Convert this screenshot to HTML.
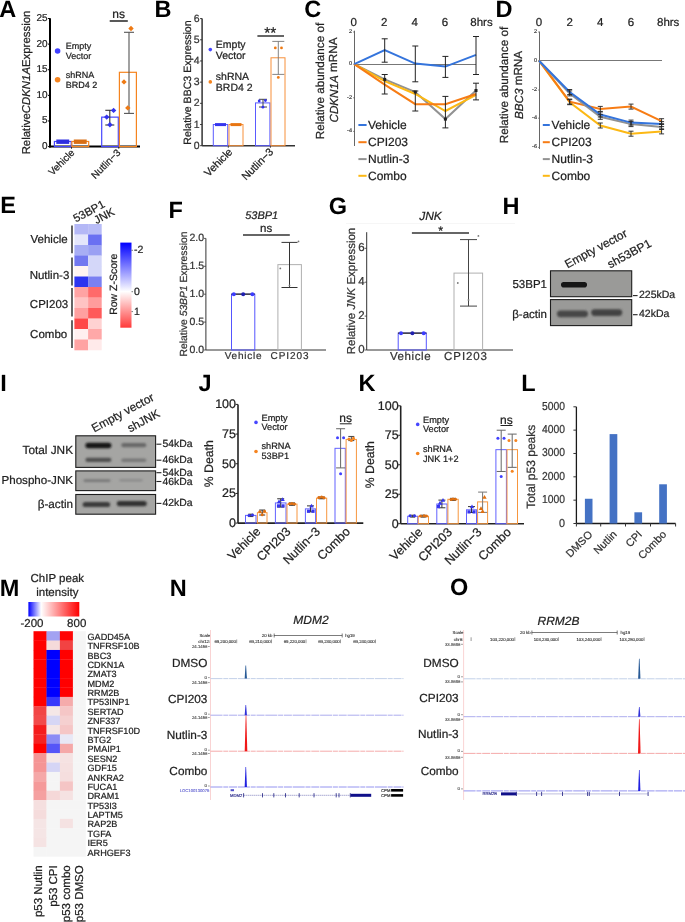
<!DOCTYPE html>
<html><head><meta charset="utf-8"><style>
html,body{margin:0;padding:0;background:#fff;width:685px;height:922px;overflow:hidden}
svg{display:block;will-change:transform}
text{font-family:"Liberation Sans", sans-serif;text-rendering:geometricPrecision}
</style></head><body>
<svg width="685" height="922" viewBox="0 0 685 922">
<defs>
<filter id="blur1" x="-50%" y="-50%" width="200%" height="200%"><feGaussianBlur stdDeviation="1.2"/></filter>
<filter id="blur2" x="-50%" y="-50%" width="200%" height="200%"><feGaussianBlur stdDeviation="0.7"/></filter>
<linearGradient id="zbar" x1="0" y1="0" x2="0" y2="1">
<stop offset="0" stop-color="#0000ff"/><stop offset="0.575" stop-color="#ffffff"/><stop offset="1" stop-color="#ff3a3a"/>
</linearGradient>
<linearGradient id="mbar" x1="0" y1="0" x2="1" y2="0">
<stop offset="0" stop-color="#0000ff"/><stop offset="0.25" stop-color="#ffffff"/><stop offset="1" stop-color="#ff0000"/>
</linearGradient>
</defs>
<rect width="685" height="922" fill="#fff"/>
<text x="-0.8" y="16.7" font-size="23.5" text-anchor="start" dominant-baseline="alphabetic" fill="#000" font-weight="bold">A</text>
<line x1="50" y1="18.3" x2="50" y2="147.6" stroke="#000" stroke-width="2"/>
<line x1="49" y1="146.6" x2="140" y2="146.6" stroke="#000" stroke-width="2"/>
<line x1="48" y1="146.6" x2="50" y2="146.6" stroke="#000" stroke-width="1"/>
<text x="47.5" y="146.6" font-size="10" text-anchor="end" dominant-baseline="central" fill="#222" stroke="#222" stroke-width="0.22">0</text>
<line x1="48" y1="120.97999999999999" x2="50" y2="120.97999999999999" stroke="#000" stroke-width="1"/>
<text x="47.5" y="120.97999999999999" font-size="10" text-anchor="end" dominant-baseline="central" fill="#222" stroke="#222" stroke-width="0.22">5</text>
<line x1="48" y1="95.36" x2="50" y2="95.36" stroke="#000" stroke-width="1"/>
<text x="47.5" y="95.36" font-size="10" text-anchor="end" dominant-baseline="central" fill="#222" stroke="#222" stroke-width="0.22">10</text>
<line x1="48" y1="69.74" x2="50" y2="69.74" stroke="#000" stroke-width="1"/>
<text x="47.5" y="69.74" font-size="10" text-anchor="end" dominant-baseline="central" fill="#222" stroke="#222" stroke-width="0.22">15</text>
<line x1="48" y1="44.120000000000005" x2="50" y2="44.120000000000005" stroke="#000" stroke-width="1"/>
<text x="47.5" y="44.120000000000005" font-size="10" text-anchor="end" dominant-baseline="central" fill="#222" stroke="#222" stroke-width="0.22">20</text>
<line x1="48" y1="18.5" x2="50" y2="18.5" stroke="#000" stroke-width="1"/>
<text x="47.5" y="18.5" font-size="10" text-anchor="end" dominant-baseline="central" fill="#222" stroke="#222" stroke-width="0.22">25</text>
<line x1="71.5" y1="146.6" x2="71.5" y2="148.6" stroke="#000" stroke-width="1"/>
<line x1="118.8" y1="146.6" x2="118.8" y2="148.6" stroke="#000" stroke-width="1"/>
<rect x="54.4" y="141.476" width="16.800000000000004" height="5.123999999999995" fill="none" stroke="#4646ff" stroke-width="1.2"/>
<rect x="71.9" y="141.476" width="16.799999999999997" height="5.123999999999995" fill="none" stroke="#f5841f" stroke-width="1.2"/>
<rect x="101.7" y="117.137" width="16.599999999999994" height="29.462999999999994" fill="none" stroke="#4646ff" stroke-width="1.2"/>
<rect x="119.4" y="72.30199999999999" width="17.0" height="74.298" fill="none" stroke="#f5841f" stroke-width="1.2"/>
<line x1="56.3" y1="141.7" x2="69.2" y2="141.7" stroke="#2e2ee0" stroke-width="4.4"/>
<line x1="73.8" y1="141.7" x2="86.7" y2="141.7" stroke="#d86e14" stroke-width="4.4"/>
<line x1="109.8" y1="110.3" x2="109.8" y2="125" stroke="#333" stroke-width="1.1"/>
<line x1="105.3" y1="110.3" x2="114.3" y2="110.3" stroke="#333" stroke-width="1.1"/>
<line x1="105.3" y1="125" x2="114.3" y2="125" stroke="#333" stroke-width="1.1"/>
<line x1="129" y1="32.3" x2="129" y2="113.4" stroke="#555" stroke-width="1.1"/>
<line x1="124" y1="32.3" x2="134" y2="32.3" stroke="#555" stroke-width="1.1"/>
<line x1="124" y1="113.4" x2="134" y2="113.4" stroke="#555" stroke-width="1.1"/>
<path d="M113.6 107.7L116.3 110.4L113.6 113.10000000000001L110.89999999999999 110.4Z" fill="#3434ee" stroke="none" stroke-width="1"/>
<path d="M106.7 114.39999999999999L109.4 117.1L106.7 119.8L104.0 117.1Z" fill="#3434ee" stroke="none" stroke-width="1"/>
<path d="M109.9 122.1L112.60000000000001 124.8L109.9 127.5L107.2 124.8Z" fill="#3434ee" stroke="none" stroke-width="1"/>
<path d="M131 25.8L133.7 28.5L131 31.2L128.3 28.5Z" fill="#ee7a14" stroke="none" stroke-width="1"/>
<path d="M124 79.2L126.7 81.9L124 84.60000000000001L121.3 81.9Z" fill="#ee7a14" stroke="none" stroke-width="1"/>
<path d="M127.8 105.2L130.5 107.9L127.8 110.60000000000001L125.1 107.9Z" fill="#ee7a14" stroke="none" stroke-width="1"/>
<line x1="109.7" y1="21" x2="127.8" y2="21" stroke="#222" stroke-width="1.5"/>
<text x="118.7" y="14" font-size="12" text-anchor="middle" dominant-baseline="central" fill="#222" stroke="#222" stroke-width="0.22">ns</text>
<circle cx="57.6" cy="51" r="2.8" fill="#4040ff"/>
<circle cx="57.6" cy="79.7" r="2.8" fill="#f5841f"/>
<text x="65.8" y="49.4" font-size="9" text-anchor="start" dominant-baseline="alphabetic" fill="#222" stroke="#222" stroke-width="0.22">Empty</text>
<text x="65.8" y="59.2" font-size="9" text-anchor="start" dominant-baseline="alphabetic" fill="#222" stroke="#222" stroke-width="0.22">Vector</text>
<text x="65.8" y="77.8" font-size="9" text-anchor="start" dominant-baseline="alphabetic" fill="#222" stroke="#222" stroke-width="0.22">shRNA</text>
<text x="65.8" y="87.8" font-size="9" text-anchor="start" dominant-baseline="alphabetic" fill="#222" stroke="#222" stroke-width="0.22">BRD4 2</text>
<text x="26.8" y="82.4" font-size="11.4" text-anchor="middle" dominant-baseline="central" fill="#222" stroke="#222" stroke-width="0.22" transform="rotate(-90 26.8 82.5)">Relative<tspan font-style="italic">CDKN1A</tspan>Expression</text>
<text x="73.5" y="151.5" font-size="10" text-anchor="end" dominant-baseline="central" fill="#222" stroke="#222" stroke-width="0.22" transform="rotate(-45 73.5 151.5)">Vehicle</text>
<text x="119.5" y="151.5" font-size="10" text-anchor="end" dominant-baseline="central" fill="#222" stroke="#222" stroke-width="0.22" transform="rotate(-45 119.5 151.5)">Nutlin−3</text>
<text x="154.5" y="16.9" font-size="23.5" text-anchor="start" dominant-baseline="alphabetic" fill="#000" font-weight="bold">B</text>
<line x1="202.1" y1="18.6" x2="202.1" y2="145.7" stroke="#333" stroke-width="1.5"/>
<line x1="202.1" y1="145.7" x2="295" y2="145.7" stroke="#333" stroke-width="1.5"/>
<line x1="200.1" y1="145.7" x2="202.1" y2="145.7" stroke="#333" stroke-width="1"/>
<text x="199.6" y="145.7" font-size="10.5" text-anchor="end" dominant-baseline="central" fill="#333" stroke="#333" stroke-width="0.22">0</text>
<line x1="200.1" y1="124.51666666666665" x2="202.1" y2="124.51666666666665" stroke="#333" stroke-width="1"/>
<text x="199.6" y="124.51666666666665" font-size="10.5" text-anchor="end" dominant-baseline="central" fill="#333" stroke="#333" stroke-width="0.22">1</text>
<line x1="200.1" y1="103.33333333333331" x2="202.1" y2="103.33333333333331" stroke="#333" stroke-width="1"/>
<text x="199.6" y="103.33333333333331" font-size="10.5" text-anchor="end" dominant-baseline="central" fill="#333" stroke="#333" stroke-width="0.22">2</text>
<line x1="200.1" y1="82.14999999999999" x2="202.1" y2="82.14999999999999" stroke="#333" stroke-width="1"/>
<text x="199.6" y="82.14999999999999" font-size="10.5" text-anchor="end" dominant-baseline="central" fill="#333" stroke="#333" stroke-width="0.22">3</text>
<line x1="200.1" y1="60.966666666666654" x2="202.1" y2="60.966666666666654" stroke="#333" stroke-width="1"/>
<text x="199.6" y="60.966666666666654" font-size="10.5" text-anchor="end" dominant-baseline="central" fill="#333" stroke="#333" stroke-width="0.22">4</text>
<line x1="200.1" y1="39.78333333333332" x2="202.1" y2="39.78333333333332" stroke="#333" stroke-width="1"/>
<text x="199.6" y="39.78333333333332" font-size="10.5" text-anchor="end" dominant-baseline="central" fill="#333" stroke="#333" stroke-width="0.22">5</text>
<line x1="200.1" y1="18.599999999999994" x2="202.1" y2="18.599999999999994" stroke="#333" stroke-width="1"/>
<text x="199.6" y="18.599999999999994" font-size="10.5" text-anchor="end" dominant-baseline="central" fill="#333" stroke="#333" stroke-width="0.22">6</text>
<line x1="228.3" y1="145.7" x2="228.3" y2="147.7" stroke="#333" stroke-width="1"/>
<line x1="270.4" y1="145.7" x2="270.4" y2="147.7" stroke="#333" stroke-width="1"/>
<rect x="213.3" y="124.51666666666665" width="14.399999999999977" height="21.183333333333337" fill="none" stroke="#5a5aff" stroke-width="1.0"/>
<rect x="229" y="124.51666666666665" width="14" height="21.183333333333337" fill="none" stroke="#f7903a" stroke-width="1.0"/>
<rect x="255.5" y="102.90966666666665" width="14.399999999999977" height="42.790333333333336" fill="none" stroke="#5a5aff" stroke-width="1.0"/>
<rect x="271" y="57.789166666666645" width="14" height="87.91083333333334" fill="none" stroke="#f7903a" stroke-width="1.0"/>
<line x1="215" y1="124.6" x2="226" y2="124.6" stroke="#3535ee" stroke-width="3"/>
<line x1="230.5" y1="124.6" x2="241.5" y2="124.6" stroke="#e87512" stroke-width="3"/>
<line x1="278.3" y1="41.4" x2="278.3" y2="74.4" stroke="#777" stroke-width="0.9"/>
<line x1="272.3" y1="41.4" x2="284.3" y2="41.4" stroke="#777" stroke-width="0.9"/>
<line x1="272.3" y1="74.4" x2="284.3" y2="74.4" stroke="#777" stroke-width="0.9"/>
<line x1="263" y1="99.3" x2="263" y2="107" stroke="#444" stroke-width="1"/>
<line x1="259" y1="99.3" x2="267" y2="99.3" stroke="#444" stroke-width="1"/>
<line x1="259" y1="107" x2="267" y2="107" stroke="#444" stroke-width="1"/>
<circle cx="259.2" cy="101" r="1.4" fill="#3434ee"/>
<circle cx="265.4" cy="100.5" r="1.4" fill="#3434ee"/>
<circle cx="262.9" cy="107.2" r="1.4" fill="#3434ee"/>
<circle cx="275.3" cy="47.9" r="1.4" fill="#ee7a14"/>
<circle cx="281.5" cy="47.9" r="1.4" fill="#ee7a14"/>
<circle cx="278.3" cy="77.4" r="1.4" fill="#ee7a14"/>
<line x1="257.4" y1="36" x2="284" y2="36" stroke="#333" stroke-width="1.5"/>
<text x="270.2" y="38.2" font-size="15.5" text-anchor="middle" dominant-baseline="alphabetic" fill="#222" stroke="#222" stroke-width="0.22">**</text>
<circle cx="210.3" cy="49.6" r="1.8" fill="#4646ff"/>
<circle cx="210.3" cy="81.9" r="1.8" fill="#f5841f"/>
<text x="215.8" y="44.7" font-size="10.5" text-anchor="start" dominant-baseline="central" fill="#222" stroke="#222" stroke-width="0.22">Empty</text>
<text x="215.8" y="55.5" font-size="10.5" text-anchor="start" dominant-baseline="central" fill="#222" stroke="#222" stroke-width="0.22">Vector</text>
<text x="215.8" y="77.2" font-size="10.5" text-anchor="start" dominant-baseline="central" fill="#222" stroke="#222" stroke-width="0.22">shRNA</text>
<text x="215.8" y="88.3" font-size="10.5" text-anchor="start" dominant-baseline="central" fill="#222" stroke="#222" stroke-width="0.22">BRD4 2</text>
<text x="188.3" y="82.5" font-size="10.6" text-anchor="middle" dominant-baseline="central" fill="#222" stroke="#222" stroke-width="0.22" transform="rotate(-90 188.3 82.5)">Relative BBC3 Expression</text>
<text x="231" y="150.5" font-size="10.8" text-anchor="end" dominant-baseline="central" fill="#222" stroke="#222" stroke-width="0.22" transform="rotate(-45 231 150.5)">Vehicle</text>
<text x="272" y="150.5" font-size="10.8" text-anchor="end" dominant-baseline="central" fill="#222" stroke="#222" stroke-width="0.22" transform="rotate(-45 272 150.5)">Nutlin−3</text>
<text x="304.2" y="16.8" font-size="23.5" text-anchor="start" dominant-baseline="alphabetic" fill="#000" font-weight="bold">C</text>
<text x="353.8" y="23.4" font-size="11.5" text-anchor="middle" dominant-baseline="central" fill="#222" stroke="#222" stroke-width="0.22">0</text>
<text x="384.2" y="23.4" font-size="11.5" text-anchor="middle" dominant-baseline="central" fill="#222" stroke="#222" stroke-width="0.22">2</text>
<text x="414.8" y="23.4" font-size="11.5" text-anchor="middle" dominant-baseline="central" fill="#222" stroke="#222" stroke-width="0.22">4</text>
<text x="444.9" y="23.4" font-size="11.5" text-anchor="middle" dominant-baseline="central" fill="#222" stroke="#222" stroke-width="0.22">6</text>
<text x="470.3" y="23.4" font-size="11.5" text-anchor="start" dominant-baseline="central" fill="#222" stroke="#222" stroke-width="0.22">8hrs</text>
<line x1="354.5" y1="30.7" x2="354.5" y2="146" stroke="#666" stroke-width="1"/>
<line x1="354.3" y1="64.5" x2="476" y2="64.5" stroke="#777" stroke-width="1"/>
<text x="352" y="32" font-size="5.5" text-anchor="end" dominant-baseline="central" fill="#222" stroke="#222" stroke-width="0.12">2</text>
<line x1="353" y1="32" x2="354.3" y2="32" stroke="#444" stroke-width="0.6"/>
<text x="352" y="64.2" font-size="5.5" text-anchor="end" dominant-baseline="central" fill="#222" stroke="#222" stroke-width="0.12">0</text>
<line x1="353" y1="64.2" x2="354.3" y2="64.2" stroke="#444" stroke-width="0.6"/>
<text x="352" y="97.8" font-size="5.5" text-anchor="end" dominant-baseline="central" fill="#222" stroke="#222" stroke-width="0.12">-2</text>
<line x1="353" y1="97.8" x2="354.3" y2="97.8" stroke="#444" stroke-width="0.6"/>
<text x="352" y="131.4" font-size="5.5" text-anchor="end" dominant-baseline="central" fill="#222" stroke="#222" stroke-width="0.12">-4</text>
<line x1="353" y1="131.4" x2="354.3" y2="131.4" stroke="#444" stroke-width="0.6"/>
<polyline points="354.3,64.2 384.7,79.4 415.3,92 445.4,119.1 476,90.5" fill="none" stroke="#929292" stroke-width="2"/>
<polyline points="354.3,64.2 384.7,81.2 415.3,94 445.4,111 476,94.9" fill="none" stroke="#fcb814" stroke-width="2"/>
<polyline points="354.3,64.2 384.7,84.7 415.3,104.2 445.4,104.2 476,94" fill="none" stroke="#f77c14" stroke-width="2"/>
<polyline points="354.3,64.2 384.7,50.2 415.3,63.6 445.4,66.6 476,54.9" fill="none" stroke="#3474dc" stroke-width="2"/>
<line x1="384.7" y1="38.8" x2="384.7" y2="62.2" stroke="#222" stroke-width="1"/>
<line x1="381.7" y1="38.8" x2="387.7" y2="38.8" stroke="#222" stroke-width="1"/>
<line x1="381.7" y1="62.2" x2="387.7" y2="62.2" stroke="#222" stroke-width="1"/>
<line x1="415.3" y1="46" x2="415.3" y2="81.8" stroke="#222" stroke-width="1"/>
<line x1="412.3" y1="46" x2="418.3" y2="46" stroke="#222" stroke-width="1"/>
<line x1="412.3" y1="81.8" x2="418.3" y2="81.8" stroke="#222" stroke-width="1"/>
<line x1="445.4" y1="56.4" x2="445.4" y2="77.4" stroke="#222" stroke-width="1"/>
<line x1="442.4" y1="56.4" x2="448.4" y2="56.4" stroke="#222" stroke-width="1"/>
<line x1="442.4" y1="77.4" x2="448.4" y2="77.4" stroke="#222" stroke-width="1"/>
<line x1="476" y1="36.5" x2="476" y2="74.5" stroke="#222" stroke-width="1"/>
<line x1="473" y1="36.5" x2="479" y2="36.5" stroke="#222" stroke-width="1"/>
<line x1="473" y1="74.5" x2="479" y2="74.5" stroke="#222" stroke-width="1"/>
<line x1="384.7" y1="74.5" x2="384.7" y2="94" stroke="#222" stroke-width="1"/>
<line x1="381.7" y1="74.5" x2="387.7" y2="74.5" stroke="#222" stroke-width="1"/>
<line x1="381.7" y1="94" x2="387.7" y2="94" stroke="#222" stroke-width="1"/>
<line x1="415.3" y1="91" x2="415.3" y2="111" stroke="#222" stroke-width="1"/>
<line x1="412.3" y1="91" x2="418.3" y2="91" stroke="#222" stroke-width="1"/>
<line x1="412.3" y1="111" x2="418.3" y2="111" stroke="#222" stroke-width="1"/>
<line x1="445.4" y1="96.4" x2="445.4" y2="127.9" stroke="#222" stroke-width="1"/>
<line x1="442.4" y1="96.4" x2="448.4" y2="96.4" stroke="#222" stroke-width="1"/>
<line x1="442.4" y1="127.9" x2="448.4" y2="127.9" stroke="#222" stroke-width="1"/>
<line x1="476" y1="83.2" x2="476" y2="99.9" stroke="#222" stroke-width="1"/>
<line x1="473" y1="83.2" x2="479" y2="83.2" stroke="#222" stroke-width="1"/>
<line x1="473" y1="99.9" x2="479" y2="99.9" stroke="#222" stroke-width="1"/>
<rect x="383.2" y="77.9" width="3" height="3" fill="#222" stroke="none" stroke-width="1"/>
<rect x="413.8" y="90.5" width="3" height="3" fill="#222" stroke="none" stroke-width="1"/>
<rect x="443.9" y="117.6" width="3" height="3" fill="#222" stroke="none" stroke-width="1"/>
<rect x="474.5" y="89.0" width="3" height="3" fill="#222" stroke="none" stroke-width="1"/>
<text x="320.4" y="81" font-size="11.7" text-anchor="middle" dominant-baseline="central" fill="#222" stroke="#222" stroke-width="0.22" transform="rotate(-90 320.4 81)">Relative abundance of</text>
<text x="333.6" y="80" font-size="11.7" text-anchor="middle" dominant-baseline="central" fill="#222" stroke="#222" stroke-width="0.22" transform="rotate(-90 333.6 80)"><tspan font-style="italic">CDKN1A</tspan> mRNA</text>
<line x1="358.4" y1="125" x2="366.6" y2="125" stroke="#3474dc" stroke-width="2"/>
<text x="368" y="125" font-size="12" text-anchor="start" dominant-baseline="central" fill="#222" stroke="#222" stroke-width="0.22">Vehicle</text>
<line x1="358.4" y1="142.2" x2="366.6" y2="142.2" stroke="#f77c14" stroke-width="2"/>
<text x="368" y="142.2" font-size="12" text-anchor="start" dominant-baseline="central" fill="#222" stroke="#222" stroke-width="0.22">CPI203</text>
<line x1="358.4" y1="159.1" x2="366.6" y2="159.1" stroke="#929292" stroke-width="2"/>
<text x="368" y="159.1" font-size="12" text-anchor="start" dominant-baseline="central" fill="#222" stroke="#222" stroke-width="0.22">Nutlin-3</text>
<line x1="358.4" y1="175.8" x2="366.6" y2="175.8" stroke="#fcb814" stroke-width="2"/>
<text x="368" y="175.8" font-size="12" text-anchor="start" dominant-baseline="central" fill="#222" stroke="#222" stroke-width="0.22">Combo</text>
<text x="495.4" y="16.9" font-size="23.5" text-anchor="start" dominant-baseline="alphabetic" fill="#000" font-weight="bold">D</text>
<text x="539" y="23.4" font-size="11.5" text-anchor="middle" dominant-baseline="central" fill="#222" stroke="#222" stroke-width="0.22">0</text>
<text x="569.7" y="23.4" font-size="11.5" text-anchor="middle" dominant-baseline="central" fill="#222" stroke="#222" stroke-width="0.22">2</text>
<text x="600.3" y="23.4" font-size="11.5" text-anchor="middle" dominant-baseline="central" fill="#222" stroke="#222" stroke-width="0.22">4</text>
<text x="631" y="23.4" font-size="11.5" text-anchor="middle" dominant-baseline="central" fill="#222" stroke="#222" stroke-width="0.22">6</text>
<text x="657" y="23.4" font-size="11.5" text-anchor="start" dominant-baseline="central" fill="#222" stroke="#222" stroke-width="0.22">8hrs</text>
<line x1="539.5" y1="31.5" x2="539.5" y2="149" stroke="#666" stroke-width="1"/>
<line x1="539" y1="60.5" x2="662" y2="60.5" stroke="#777" stroke-width="1"/>
<text x="537" y="32" font-size="5.5" text-anchor="end" dominant-baseline="central" fill="#222" stroke="#222" stroke-width="0.12">2</text>
<line x1="538" y1="32" x2="539" y2="32" stroke="#444" stroke-width="0.6"/>
<text x="537" y="60.7" font-size="5.5" text-anchor="end" dominant-baseline="central" fill="#222" stroke="#222" stroke-width="0.12">0</text>
<line x1="538" y1="60.7" x2="539" y2="60.7" stroke="#444" stroke-width="0.6"/>
<text x="537" y="90" font-size="5.5" text-anchor="end" dominant-baseline="central" fill="#222" stroke="#222" stroke-width="0.12">-2</text>
<line x1="538" y1="90" x2="539" y2="90" stroke="#444" stroke-width="0.6"/>
<text x="537" y="118.2" font-size="5.5" text-anchor="end" dominant-baseline="central" fill="#222" stroke="#222" stroke-width="0.12">-4</text>
<line x1="538" y1="118.2" x2="539" y2="118.2" stroke="#444" stroke-width="0.6"/>
<text x="537" y="147.4" font-size="5.5" text-anchor="end" dominant-baseline="central" fill="#222" stroke="#222" stroke-width="0.12">-6</text>
<line x1="538" y1="147.4" x2="539" y2="147.4" stroke="#444" stroke-width="0.6"/>
<polyline points="539,60.7 569.7,102.2 600.3,125.5 631,133.7 661.6,131.4" fill="none" stroke="#fcb814" stroke-width="2"/>
<polyline points="539,60.7 569.7,101.6 600.3,108.9 631,106.6 661.6,121.2" fill="none" stroke="#f77c14" stroke-width="2"/>
<polyline points="539,60.7 569.7,93.4 600.3,116.8 631,124.1 661.6,127" fill="none" stroke="#929292" stroke-width="2"/>
<polyline points="539,60.7 569.7,92 600.3,114.5 631,122.6 661.6,124.1" fill="none" stroke="#3474dc" stroke-width="2"/>
<line x1="569.7" y1="89.5" x2="569.7" y2="94.5" stroke="#222" stroke-width="0.9"/>
<line x1="567.2" y1="89.5" x2="572.2" y2="89.5" stroke="#222" stroke-width="0.9"/>
<line x1="567.2" y1="94.5" x2="572.2" y2="94.5" stroke="#222" stroke-width="0.9"/>
<line x1="600.3" y1="112.0" x2="600.3" y2="117.0" stroke="#222" stroke-width="0.9"/>
<line x1="597.8" y1="112.0" x2="602.8" y2="112.0" stroke="#222" stroke-width="0.9"/>
<line x1="597.8" y1="117.0" x2="602.8" y2="117.0" stroke="#222" stroke-width="0.9"/>
<line x1="631" y1="120.1" x2="631" y2="125.1" stroke="#222" stroke-width="0.9"/>
<line x1="628.5" y1="120.1" x2="633.5" y2="120.1" stroke="#222" stroke-width="0.9"/>
<line x1="628.5" y1="125.1" x2="633.5" y2="125.1" stroke="#222" stroke-width="0.9"/>
<line x1="661.6" y1="121.6" x2="661.6" y2="126.6" stroke="#222" stroke-width="0.9"/>
<line x1="659.1" y1="121.6" x2="664.1" y2="121.6" stroke="#222" stroke-width="0.9"/>
<line x1="659.1" y1="126.6" x2="664.1" y2="126.6" stroke="#222" stroke-width="0.9"/>
<line x1="569.7" y1="99.1" x2="569.7" y2="104.1" stroke="#222" stroke-width="0.9"/>
<line x1="567.2" y1="99.1" x2="572.2" y2="99.1" stroke="#222" stroke-width="0.9"/>
<line x1="567.2" y1="104.1" x2="572.2" y2="104.1" stroke="#222" stroke-width="0.9"/>
<line x1="600.3" y1="106.4" x2="600.3" y2="111.4" stroke="#222" stroke-width="0.9"/>
<line x1="597.8" y1="106.4" x2="602.8" y2="106.4" stroke="#222" stroke-width="0.9"/>
<line x1="597.8" y1="111.4" x2="602.8" y2="111.4" stroke="#222" stroke-width="0.9"/>
<line x1="631" y1="104.1" x2="631" y2="109.1" stroke="#222" stroke-width="0.9"/>
<line x1="628.5" y1="104.1" x2="633.5" y2="104.1" stroke="#222" stroke-width="0.9"/>
<line x1="628.5" y1="109.1" x2="633.5" y2="109.1" stroke="#222" stroke-width="0.9"/>
<line x1="661.6" y1="118.7" x2="661.6" y2="123.7" stroke="#222" stroke-width="0.9"/>
<line x1="659.1" y1="118.7" x2="664.1" y2="118.7" stroke="#222" stroke-width="0.9"/>
<line x1="659.1" y1="123.7" x2="664.1" y2="123.7" stroke="#222" stroke-width="0.9"/>
<line x1="569.7" y1="90.9" x2="569.7" y2="95.9" stroke="#222" stroke-width="0.9"/>
<line x1="567.2" y1="90.9" x2="572.2" y2="90.9" stroke="#222" stroke-width="0.9"/>
<line x1="567.2" y1="95.9" x2="572.2" y2="95.9" stroke="#222" stroke-width="0.9"/>
<line x1="600.3" y1="114.3" x2="600.3" y2="119.3" stroke="#222" stroke-width="0.9"/>
<line x1="597.8" y1="114.3" x2="602.8" y2="114.3" stroke="#222" stroke-width="0.9"/>
<line x1="597.8" y1="119.3" x2="602.8" y2="119.3" stroke="#222" stroke-width="0.9"/>
<line x1="631" y1="121.6" x2="631" y2="126.6" stroke="#222" stroke-width="0.9"/>
<line x1="628.5" y1="121.6" x2="633.5" y2="121.6" stroke="#222" stroke-width="0.9"/>
<line x1="628.5" y1="126.6" x2="633.5" y2="126.6" stroke="#222" stroke-width="0.9"/>
<line x1="661.6" y1="124.5" x2="661.6" y2="129.5" stroke="#222" stroke-width="0.9"/>
<line x1="659.1" y1="124.5" x2="664.1" y2="124.5" stroke="#222" stroke-width="0.9"/>
<line x1="659.1" y1="129.5" x2="664.1" y2="129.5" stroke="#222" stroke-width="0.9"/>
<line x1="569.7" y1="99.7" x2="569.7" y2="104.7" stroke="#222" stroke-width="0.9"/>
<line x1="567.2" y1="99.7" x2="572.2" y2="99.7" stroke="#222" stroke-width="0.9"/>
<line x1="567.2" y1="104.7" x2="572.2" y2="104.7" stroke="#222" stroke-width="0.9"/>
<line x1="600.3" y1="123.0" x2="600.3" y2="128.0" stroke="#222" stroke-width="0.9"/>
<line x1="597.8" y1="123.0" x2="602.8" y2="123.0" stroke="#222" stroke-width="0.9"/>
<line x1="597.8" y1="128.0" x2="602.8" y2="128.0" stroke="#222" stroke-width="0.9"/>
<line x1="631" y1="131.2" x2="631" y2="136.2" stroke="#222" stroke-width="0.9"/>
<line x1="628.5" y1="131.2" x2="633.5" y2="131.2" stroke="#222" stroke-width="0.9"/>
<line x1="628.5" y1="136.2" x2="633.5" y2="136.2" stroke="#222" stroke-width="0.9"/>
<line x1="661.6" y1="128.9" x2="661.6" y2="133.9" stroke="#222" stroke-width="0.9"/>
<line x1="659.1" y1="128.9" x2="664.1" y2="128.9" stroke="#222" stroke-width="0.9"/>
<line x1="659.1" y1="133.9" x2="664.1" y2="133.9" stroke="#222" stroke-width="0.9"/>
<text x="504.9" y="85" font-size="11.7" text-anchor="middle" dominant-baseline="central" fill="#222" stroke="#222" stroke-width="0.22" transform="rotate(-90 504.9 85)">Relative abundance of</text>
<text x="518.6" y="85" font-size="11.7" text-anchor="middle" dominant-baseline="central" fill="#222" stroke="#222" stroke-width="0.22" transform="rotate(-90 518.6 85)"><tspan font-style="italic">BBC3</tspan> mRNA</text>
<line x1="542.8" y1="125" x2="549.8" y2="125" stroke="#3474dc" stroke-width="2"/>
<text x="551.6" y="125" font-size="12" text-anchor="start" dominant-baseline="central" fill="#222" stroke="#222" stroke-width="0.22">Vehicle</text>
<line x1="542.8" y1="142.2" x2="549.8" y2="142.2" stroke="#f77c14" stroke-width="2"/>
<text x="551.6" y="142.2" font-size="12" text-anchor="start" dominant-baseline="central" fill="#222" stroke="#222" stroke-width="0.22">CPI203</text>
<line x1="542.8" y1="159.1" x2="549.8" y2="159.1" stroke="#929292" stroke-width="2"/>
<text x="551.6" y="159.1" font-size="12" text-anchor="start" dominant-baseline="central" fill="#222" stroke="#222" stroke-width="0.22">Nutlin-3</text>
<line x1="542.8" y1="175.8" x2="549.8" y2="175.8" stroke="#fcb814" stroke-width="2"/>
<text x="551.6" y="175.8" font-size="12" text-anchor="start" dominant-baseline="central" fill="#222" stroke="#222" stroke-width="0.22">Combo</text>
<text x="0.3" y="213.4" font-size="23.5" text-anchor="start" dominant-baseline="alphabetic" fill="#000" font-weight="bold">E</text>
<rect x="74.4" y="224.0" width="13.7" height="10.8" fill="#b4b8f6" stroke="none" stroke-width="1"/>
<rect x="88.1" y="224.0" width="13.6" height="10.8" fill="#b8bcf7" stroke="none" stroke-width="1"/>
<rect x="74.4" y="234.5" width="13.7" height="10.8" fill="#e4e6fb" stroke="none" stroke-width="1"/>
<rect x="88.1" y="234.5" width="13.6" height="10.8" fill="#6a70f2" stroke="none" stroke-width="1"/>
<rect x="74.4" y="245.0" width="13.7" height="10.8" fill="#a8aef4" stroke="none" stroke-width="1"/>
<rect x="88.1" y="245.0" width="13.6" height="10.8" fill="#9aa0f3" stroke="none" stroke-width="1"/>
<rect x="74.4" y="255.5" width="13.7" height="10.8" fill="#7278f0" stroke="none" stroke-width="1"/>
<rect x="88.1" y="255.5" width="13.6" height="10.8" fill="#d4d7f9" stroke="none" stroke-width="1"/>
<rect x="74.4" y="266.0" width="13.7" height="10.8" fill="#fff4f1" stroke="none" stroke-width="1"/>
<rect x="88.1" y="266.0" width="13.6" height="10.8" fill="#d4d7f9" stroke="none" stroke-width="1"/>
<rect x="74.4" y="276.5" width="13.7" height="10.8" fill="#2c34f0" stroke="none" stroke-width="1"/>
<rect x="88.1" y="276.5" width="13.6" height="10.8" fill="#7a80f2" stroke="none" stroke-width="1"/>
<rect x="74.4" y="287.0" width="13.7" height="10.8" fill="#ffa3a3" stroke="none" stroke-width="1"/>
<rect x="88.1" y="287.0" width="13.6" height="10.8" fill="#ff6a6a" stroke="none" stroke-width="1"/>
<rect x="74.4" y="297.5" width="13.7" height="10.8" fill="#ffc3c3" stroke="none" stroke-width="1"/>
<rect x="88.1" y="297.5" width="13.6" height="10.8" fill="#ff9c9c" stroke="none" stroke-width="1"/>
<rect x="74.4" y="308.0" width="13.7" height="10.8" fill="#ffa0a0" stroke="none" stroke-width="1"/>
<rect x="88.1" y="308.0" width="13.6" height="10.8" fill="#ff5a5a" stroke="none" stroke-width="1"/>
<rect x="74.4" y="318.5" width="13.7" height="10.8" fill="#ff4848" stroke="none" stroke-width="1"/>
<rect x="88.1" y="318.5" width="13.6" height="10.8" fill="#ffd2d2" stroke="none" stroke-width="1"/>
<rect x="74.4" y="329.0" width="13.7" height="10.8" fill="#fff0f0" stroke="none" stroke-width="1"/>
<rect x="88.1" y="329.0" width="13.6" height="10.8" fill="#ffa8a8" stroke="none" stroke-width="1"/>
<rect x="74.4" y="339.5" width="13.7" height="10.8" fill="#ffa3a3" stroke="none" stroke-width="1"/>
<rect x="88.1" y="339.5" width="13.6" height="10.8" fill="#ffeaea" stroke="none" stroke-width="1"/>
<line x1="72" y1="225.5" x2="72" y2="253.3" stroke="#111" stroke-width="1.3"/>
<line x1="72" y1="257.5" x2="72" y2="285.5" stroke="#111" stroke-width="1.3"/>
<line x1="72" y1="288" x2="72" y2="316.5" stroke="#111" stroke-width="1.3"/>
<line x1="72" y1="320.3" x2="72" y2="348" stroke="#111" stroke-width="1.3"/>
<text x="67.6" y="239.6" font-size="11.5" text-anchor="end" dominant-baseline="central" fill="#222" stroke="#222" stroke-width="0.22">Vehicle</text>
<text x="69.3" y="275.6" font-size="11.5" text-anchor="end" dominant-baseline="central" fill="#222" stroke="#222" stroke-width="0.22">Nutlin-3</text>
<text x="68.2" y="304.9" font-size="11.5" text-anchor="end" dominant-baseline="central" fill="#222" stroke="#222" stroke-width="0.22">CPI203</text>
<text x="67.2" y="334.7" font-size="11.5" text-anchor="end" dominant-baseline="central" fill="#222" stroke="#222" stroke-width="0.22">Combo</text>
<text x="75.8" y="222.6" font-size="11.3" text-anchor="start" dominant-baseline="alphabetic" fill="#222" stroke="#222" stroke-width="0.22" transform="rotate(-28 75.8 222.6)">53BP1</text>
<text x="96.5" y="224.2" font-size="11.3" text-anchor="start" dominant-baseline="alphabetic" fill="#222" stroke="#222" stroke-width="0.22" transform="rotate(-28 96.5 224.2)">JNK</text>
<rect x="120.3" y="242.6" width="11.2" height="85.1" fill="url(#zbar)" stroke="none" stroke-width="1"/>
<text x="134" y="250.3" font-size="10.5" text-anchor="start" dominant-baseline="central" fill="#222" stroke="#222" stroke-width="0.22">-2</text>
<text x="134" y="291.7" font-size="10.5" text-anchor="start" dominant-baseline="central" fill="#222" stroke="#222" stroke-width="0.22">0</text>
<text x="134" y="311.6" font-size="10.5" text-anchor="start" dominant-baseline="central" fill="#222" stroke="#222" stroke-width="0.22">1</text>
<line x1="131.5" y1="250.3" x2="133" y2="250.3" stroke="#222" stroke-width="0.6"/>
<line x1="131.5" y1="291.7" x2="133" y2="291.7" stroke="#222" stroke-width="0.6"/>
<line x1="131.5" y1="311.6" x2="133" y2="311.6" stroke="#222" stroke-width="0.6"/>
<text x="114.1" y="284.2" font-size="10.5" text-anchor="middle" dominant-baseline="central" fill="#222" stroke="#222" stroke-width="0.22" transform="rotate(-90 114.1 284.2)">Row Z-Score</text>
<text x="168.5" y="217.7" font-size="23.5" text-anchor="start" dominant-baseline="alphabetic" fill="#000" font-weight="bold">F</text>
<text x="261.7" y="216" font-size="11" text-anchor="middle" dominant-baseline="central" fill="#222" stroke="#222" stroke-width="0.22" font-style="italic">53BP1</text>
<text x="266.2" y="229.2" font-size="11.5" text-anchor="middle" dominant-baseline="central" fill="#222" stroke="#222" stroke-width="0.22">ns</text>
<line x1="243" y1="234.9" x2="289.8" y2="234.9" stroke="#333" stroke-width="1.5"/>
<line x1="205.9" y1="238.4" x2="205.9" y2="350" stroke="#333" stroke-width="1"/>
<line x1="205.9" y1="350" x2="326" y2="350" stroke="#333" stroke-width="1"/>
<line x1="203.9" y1="350.0" x2="205.9" y2="350.0" stroke="#333" stroke-width="0.8"/>
<text x="204" y="350.0" font-size="10.5" text-anchor="end" dominant-baseline="central" fill="#333" stroke="#333" stroke-width="0.22">0.0</text>
<line x1="203.9" y1="322.1" x2="205.9" y2="322.1" stroke="#333" stroke-width="0.8"/>
<text x="204" y="322.1" font-size="10.5" text-anchor="end" dominant-baseline="central" fill="#333" stroke="#333" stroke-width="0.22">0.5</text>
<line x1="203.9" y1="294.2" x2="205.9" y2="294.2" stroke="#333" stroke-width="0.8"/>
<text x="204" y="294.2" font-size="10.5" text-anchor="end" dominant-baseline="central" fill="#333" stroke="#333" stroke-width="0.22">1.0</text>
<line x1="203.9" y1="266.3" x2="205.9" y2="266.3" stroke="#333" stroke-width="0.8"/>
<text x="204" y="266.3" font-size="10.5" text-anchor="end" dominant-baseline="central" fill="#333" stroke="#333" stroke-width="0.22">1.5</text>
<line x1="203.9" y1="238.4" x2="205.9" y2="238.4" stroke="#333" stroke-width="0.8"/>
<text x="204" y="238.4" font-size="10.5" text-anchor="end" dominant-baseline="central" fill="#333" stroke="#333" stroke-width="0.22">2.0</text>
<rect x="231.5" y="294.2" width="23.3" height="55.8" fill="none" stroke="#5555ff" stroke-width="1"/>
<rect x="277.9" y="264.626" width="23.5" height="85.374" fill="none" stroke="#b0b0b0" stroke-width="1"/>
<line x1="231.5" y1="294.2" x2="254.8" y2="294.2" stroke="#333" stroke-width="1"/>
<line x1="231.5" y1="294.2" x2="254.8" y2="294.2" stroke="#444" stroke-width="1.2"/>
<circle cx="233.8" cy="294.2" r="2" fill="#3c3cff"/>
<circle cx="252.4" cy="294.2" r="2" fill="#3c3cff"/>
<circle cx="243.2" cy="294.2" r="2" fill="#2020b0"/>
<line x1="289.5" y1="242.4" x2="289.5" y2="287.5" stroke="#333" stroke-width="1"/>
<line x1="281.5" y1="242.4" x2="297.5" y2="242.4" stroke="#333" stroke-width="1"/>
<line x1="281.5" y1="287.5" x2="297.5" y2="287.5" stroke="#333" stroke-width="1"/>
<circle cx="280.3" cy="268.4" r="0.9" fill="#777"/>
<circle cx="298.5" cy="241.4" r="0.9" fill="#777"/>
<circle cx="289.5" cy="285.5" r="0.9" fill="#777"/>
<text x="184" y="294" font-size="10.3" text-anchor="middle" dominant-baseline="central" fill="#333" stroke="#333" stroke-width="0.22" transform="rotate(-90 184 294)">Relative <tspan font-style="italic">53BP1</tspan> Expression</text>
<text x="243.5" y="356" font-size="10" text-anchor="middle" dominant-baseline="central" fill="#333" stroke="#333" stroke-width="0.22" letter-spacing="0.75">Vehicle</text>
<text x="290" y="356" font-size="10" text-anchor="middle" dominant-baseline="central" fill="#333" stroke="#333" stroke-width="0.22" letter-spacing="0.95">CPI203</text>
<text x="328.8" y="214.3" font-size="23.5" text-anchor="start" dominant-baseline="alphabetic" fill="#000" font-weight="bold">G</text>
<line x1="346" y1="223.5" x2="515" y2="223.5" stroke="#f6f6f6" stroke-width="1"/>
<text x="430.5" y="216" font-size="12" text-anchor="middle" dominant-baseline="central" fill="#222" stroke="#222" stroke-width="0.22" font-style="italic">JNK</text>
<text x="440.6" y="230.5" font-size="12.5" text-anchor="middle" dominant-baseline="central" fill="#222" stroke="#222" stroke-width="0.22">*</text>
<line x1="411.9" y1="233" x2="469" y2="233" stroke="#333" stroke-width="1.5"/>
<line x1="366.7" y1="232.2" x2="366.7" y2="350" stroke="#333" stroke-width="1"/>
<line x1="366.7" y1="350" x2="513" y2="350" stroke="#333" stroke-width="1"/>
<line x1="364.7" y1="350.0" x2="366.7" y2="350.0" stroke="#333" stroke-width="0.8"/>
<text x="364.7" y="350.0" font-size="11.5" text-anchor="end" dominant-baseline="central" fill="#333" stroke="#333" stroke-width="0.22">0</text>
<line x1="364.7" y1="316.1" x2="366.7" y2="316.1" stroke="#333" stroke-width="0.8"/>
<text x="364.7" y="316.1" font-size="11.5" text-anchor="end" dominant-baseline="central" fill="#333" stroke="#333" stroke-width="0.22">2</text>
<line x1="364.7" y1="282.2" x2="366.7" y2="282.2" stroke="#333" stroke-width="0.8"/>
<text x="364.7" y="282.2" font-size="11.5" text-anchor="end" dominant-baseline="central" fill="#333" stroke="#333" stroke-width="0.22">4</text>
<line x1="364.7" y1="248.3" x2="366.7" y2="248.3" stroke="#333" stroke-width="0.8"/>
<text x="364.7" y="248.3" font-size="11.5" text-anchor="end" dominant-baseline="central" fill="#333" stroke="#333" stroke-width="0.22">6</text>
<rect x="398.2" y="333.05" width="28.1" height="16.95" fill="none" stroke="#5555ff" stroke-width="1"/>
<rect x="454" y="273.1" width="28.6" height="76.89999999999998" fill="none" stroke="#b0b0b0" stroke-width="1"/>
<line x1="398.2" y1="333.2" x2="426.3" y2="333.2" stroke="#333" stroke-width="1"/>
<line x1="398.2" y1="333.2" x2="426.3" y2="333.2" stroke="#444" stroke-width="1.2"/>
<circle cx="401" cy="333.2" r="2" fill="#3c3cff"/>
<circle cx="423.7" cy="333.2" r="2" fill="#3c3cff"/>
<circle cx="412.4" cy="333.2" r="2" fill="#2020b0"/>
<line x1="468.5" y1="239.6" x2="468.5" y2="306.1" stroke="#444" stroke-width="1"/>
<line x1="460.0" y1="239.6" x2="477.0" y2="239.6" stroke="#444" stroke-width="1"/>
<line x1="460.0" y1="306.1" x2="477.0" y2="306.1" stroke="#444" stroke-width="1"/>
<circle cx="457.8" cy="283" r="0.9" fill="#777"/>
<circle cx="478.4" cy="235.9" r="0.9" fill="#777"/>
<circle cx="468.5" cy="300" r="0.9" fill="#777"/>
<text x="352.3" y="291" font-size="11.5" text-anchor="middle" dominant-baseline="central" fill="#333" stroke="#333" stroke-width="0.22" transform="rotate(-90 352.3 291)">Relative <tspan font-style="italic">JNK</tspan> Expression</text>
<text x="410.6" y="357" font-size="11.5" text-anchor="middle" dominant-baseline="central" fill="#333" stroke="#333" stroke-width="0.22" letter-spacing="0.6">Vehicle</text>
<text x="466" y="357" font-size="11.5" text-anchor="middle" dominant-baseline="central" fill="#333" stroke="#333" stroke-width="0.22" letter-spacing="0.9">CPI203</text>
<text x="502.4" y="213.6" font-size="23.5" text-anchor="start" dominant-baseline="alphabetic" fill="#000" font-weight="bold">H</text>
<rect x="550.5" y="270.8" width="81.2" height="25.9" fill="#9a9a98" stroke="#1e1e1e" stroke-width="1.1"/>
<rect x="561" y="282" width="26" height="5.6" rx="2.8" fill="#121212" filter="url(#blur2)"/>
<rect x="550.5" y="299.6" width="81.2" height="26" fill="#9a9a98" stroke="#1e1e1e" stroke-width="1.1"/>
<rect x="557.0" y="310.40000000000003" width="31" height="6.8" rx="3.4" fill="#464646" opacity="1" filter="url(#blur1)"/>
<rect x="591.2" y="309.20000000000005" width="31" height="6.8" rx="3.4" fill="#424242" opacity="1" filter="url(#blur1)"/>
<text x="547" y="284.8" font-size="11.5" text-anchor="end" dominant-baseline="central" fill="#222" stroke="#222" stroke-width="0.22">53BP1</text>
<text x="547" y="315.2" font-size="11.5" text-anchor="end" dominant-baseline="central" fill="#222" stroke="#222" stroke-width="0.22">β-actin</text>
<line x1="633" y1="295.6" x2="637.6" y2="295.6" stroke="#222" stroke-width="1.1"/>
<text x="639" y="295.1" font-size="10.5" text-anchor="start" dominant-baseline="central" fill="#222" stroke="#222" stroke-width="0.22">225kDa</text>
<line x1="633" y1="314.7" x2="637.6" y2="314.7" stroke="#222" stroke-width="1.1"/>
<text x="639" y="314.4" font-size="10.5" text-anchor="start" dominant-baseline="central" fill="#222" stroke="#222" stroke-width="0.22">42kDa</text>
<text x="567.5" y="268.5" font-size="11.8" text-anchor="start" dominant-baseline="alphabetic" fill="#222" stroke="#222" stroke-width="0.22" transform="rotate(-28.3 567.5 268.5)">Empty vector</text>
<text x="610" y="268.5" font-size="11.8" text-anchor="start" dominant-baseline="alphabetic" fill="#222" stroke="#222" stroke-width="0.22" transform="rotate(-28.3 610 268.5)">sh53BP1</text>
<text x="0.3" y="390.8" font-size="23.5" text-anchor="start" dominant-baseline="alphabetic" fill="#000" font-weight="bold">I</text>
<rect x="75.8" y="435.8" width="79.8" height="31.6" fill="#a5a5a3" stroke="#1e1e1e" stroke-width="1.1"/>
<rect x="85.4" y="442.75" width="26" height="5.5" rx="2.75" fill="#161616" opacity="1" filter="url(#blur1)"/>
<rect x="121.30000000000001" y="443.09999999999997" width="25" height="4.2" rx="2.1" fill="#686868" opacity="1" filter="url(#blur1)"/>
<rect x="85.4" y="457.79999999999995" width="26" height="4.2" rx="2.1" fill="#505050" opacity="1" filter="url(#blur1)"/>
<rect x="121.30000000000001" y="458.5" width="25" height="3.6" rx="1.8" fill="#777777" opacity="1" filter="url(#blur1)"/>
<rect x="75.8" y="470.9" width="79.8" height="19.7" fill="#a5a5a3" stroke="#1e1e1e" stroke-width="1.1"/>
<rect x="83.5" y="479.20000000000005" width="27" height="2.8" rx="1.4" fill="#787878" opacity="1" filter="url(#blur1)"/>
<rect x="119.5" y="479.0" width="23" height="2.4" rx="1.2" fill="#8c8c8c" opacity="1" filter="url(#blur1)"/>
<rect x="75.8" y="494.5" width="79.8" height="19.7" fill="#a5a5a3" stroke="#1e1e1e" stroke-width="1.1"/>
<rect x="82.65" y="501.9" width="27.5" height="5.2" rx="2.6" fill="#3a3a3a" opacity="1" filter="url(#blur1)"/>
<rect x="116.80000000000001" y="501.0" width="30" height="5.2" rx="2.6" fill="#333333" opacity="1" filter="url(#blur1)"/>
<text x="73" y="449.7" font-size="11.8" text-anchor="end" dominant-baseline="central" fill="#222" stroke="#222" stroke-width="0.22">Total JNK</text>
<text x="73" y="480.3" font-size="11.6" text-anchor="end" dominant-baseline="central" fill="#222" stroke="#222" stroke-width="0.22">Phospho-JNK</text>
<text x="73" y="504.5" font-size="11.7" text-anchor="end" dominant-baseline="central" fill="#222" stroke="#222" stroke-width="0.22">β-actin</text>
<line x1="156.4" y1="444.2" x2="161.4" y2="444.2" stroke="#222" stroke-width="1.1"/>
<text x="162.4" y="444.6" font-size="10.4" text-anchor="start" dominant-baseline="central" fill="#222" stroke="#222" stroke-width="0.22">54kDa</text>
<line x1="156.4" y1="460.2" x2="161.4" y2="460.2" stroke="#222" stroke-width="1.1"/>
<text x="162.4" y="460.8" font-size="10.4" text-anchor="start" dominant-baseline="central" fill="#222" stroke="#222" stroke-width="0.22">46kDa</text>
<line x1="156.4" y1="472.7" x2="161.4" y2="472.7" stroke="#222" stroke-width="1.1"/>
<text x="162.4" y="473.4" font-size="10.4" text-anchor="start" dominant-baseline="central" fill="#222" stroke="#222" stroke-width="0.22">54kDa</text>
<line x1="156.4" y1="481.5" x2="161.4" y2="481.5" stroke="#222" stroke-width="1.1"/>
<text x="162.4" y="482.6" font-size="10.4" text-anchor="start" dominant-baseline="central" fill="#222" stroke="#222" stroke-width="0.22">46kDa</text>
<line x1="156.4" y1="503.4" x2="161.4" y2="503.4" stroke="#222" stroke-width="1.1"/>
<text x="162.4" y="503.8" font-size="10.4" text-anchor="start" dominant-baseline="central" fill="#222" stroke="#222" stroke-width="0.22">42kDa</text>
<text x="94.3" y="432.5" font-size="11.8" text-anchor="start" dominant-baseline="alphabetic" fill="#222" stroke="#222" stroke-width="0.22" transform="rotate(-28.3 94.3 432.5)">Empty vector</text>
<text x="130" y="432.5" font-size="11.8" text-anchor="start" dominant-baseline="alphabetic" fill="#222" stroke="#222" stroke-width="0.22" transform="rotate(-28.3 130 432.5)">shJNK</text>
<text x="198.5" y="390.8" font-size="23.5" text-anchor="start" dominant-baseline="alphabetic" fill="#000" font-weight="bold">J</text>
<line x1="238" y1="404.4" x2="238" y2="523.1" stroke="#222" stroke-width="1.6"/>
<line x1="238" y1="523.1" x2="363.3" y2="523.1" stroke="#222" stroke-width="1.6"/>
<line x1="235.5" y1="523.1" x2="238" y2="523.1" stroke="#222" stroke-width="1"/>
<text x="236" y="523.1" font-size="12.5" text-anchor="end" dominant-baseline="central" fill="#222" stroke="#222" stroke-width="0.22">0</text>
<line x1="235.5" y1="493.425" x2="238" y2="493.425" stroke="#222" stroke-width="1"/>
<text x="236" y="493.425" font-size="12.5" text-anchor="end" dominant-baseline="central" fill="#222" stroke="#222" stroke-width="0.22">25</text>
<line x1="235.5" y1="463.75" x2="238" y2="463.75" stroke="#222" stroke-width="1"/>
<text x="236" y="463.75" font-size="12.5" text-anchor="end" dominant-baseline="central" fill="#222" stroke="#222" stroke-width="0.22">50</text>
<line x1="235.5" y1="434.075" x2="238" y2="434.075" stroke="#222" stroke-width="1"/>
<text x="236" y="434.075" font-size="12.5" text-anchor="end" dominant-baseline="central" fill="#222" stroke="#222" stroke-width="0.22">75</text>
<line x1="235.5" y1="404.4" x2="238" y2="404.4" stroke="#222" stroke-width="1"/>
<text x="236" y="404.4" font-size="12.5" text-anchor="end" dominant-baseline="central" fill="#222" stroke="#222" stroke-width="0.22">100</text>
<rect x="245.5" y="515.3845" width="10.5" height="7.715500000000003" fill="none" stroke="#6262ff" stroke-width="1.0"/>
<rect x="257.4" y="512.6544" width="9.600000000000023" height="10.445600000000006" fill="none" stroke="#f7963e" stroke-width="1.0"/>
<rect x="275.4" y="502.921" width="10.600000000000023" height="20.17900000000001" fill="none" stroke="#6262ff" stroke-width="1.0"/>
<rect x="287" y="504.108" width="10" height="18.992000000000008" fill="none" stroke="#f7963e" stroke-width="1.0"/>
<rect x="305.4" y="508.856" width="10.200000000000045" height="14.244000000000007" fill="none" stroke="#6262ff" stroke-width="1.0"/>
<rect x="316.5" y="498.173" width="10.199999999999989" height="24.92700000000001" fill="none" stroke="#f7963e" stroke-width="1.0"/>
<rect x="335" y="448.31899999999996" width="10.300000000000011" height="74.78100000000003" fill="none" stroke="#6262ff" stroke-width="1.0"/>
<rect x="346.1" y="439.4165" width="10.299999999999955" height="83.68350000000004" fill="none" stroke="#f7963e" stroke-width="1.0"/>
<line x1="340.6" y1="428.7335" x2="340.6" y2="467.9045" stroke="#666" stroke-width="1"/>
<line x1="336.1" y1="428.7335" x2="345.1" y2="428.7335" stroke="#666" stroke-width="1"/>
<line x1="336.1" y1="467.9045" x2="345.1" y2="467.9045" stroke="#666" stroke-width="1"/>
<line x1="351.3" y1="436.44899999999996" x2="351.3" y2="440.6035" stroke="#444" stroke-width="1"/>
<line x1="348.3" y1="436.44899999999996" x2="354.3" y2="436.44899999999996" stroke="#444" stroke-width="1"/>
<line x1="348.3" y1="440.6035" x2="354.3" y2="440.6035" stroke="#444" stroke-width="1"/>
<line x1="250.8" y1="514.1975" x2="250.8" y2="516.5715" stroke="#333" stroke-width="1"/>
<line x1="248.3" y1="514.1975" x2="253.3" y2="514.1975" stroke="#333" stroke-width="1"/>
<line x1="248.3" y1="516.5715" x2="253.3" y2="516.5715" stroke="#333" stroke-width="1"/>
<line x1="262.2" y1="510.043" x2="262.2" y2="515.0284" stroke="#333" stroke-width="1"/>
<line x1="259.2" y1="510.043" x2="265.2" y2="510.043" stroke="#333" stroke-width="1"/>
<line x1="259.2" y1="515.0284" x2="265.2" y2="515.0284" stroke="#333" stroke-width="1"/>
<line x1="280.7" y1="498.7665" x2="280.7" y2="507.07550000000003" stroke="#333" stroke-width="1"/>
<line x1="277.2" y1="498.7665" x2="284.2" y2="498.7665" stroke="#333" stroke-width="1"/>
<line x1="277.2" y1="507.07550000000003" x2="284.2" y2="507.07550000000003" stroke="#333" stroke-width="1"/>
<line x1="292" y1="502.921" x2="292" y2="505.295" stroke="#333" stroke-width="1"/>
<line x1="289" y1="502.921" x2="295" y2="502.921" stroke="#333" stroke-width="1"/>
<line x1="289" y1="505.295" x2="295" y2="505.295" stroke="#333" stroke-width="1"/>
<line x1="310.5" y1="505.8885" x2="310.5" y2="511.8235" stroke="#333" stroke-width="1"/>
<line x1="307.0" y1="505.8885" x2="314.0" y2="505.8885" stroke="#333" stroke-width="1"/>
<line x1="307.0" y1="511.8235" x2="314.0" y2="511.8235" stroke="#333" stroke-width="1"/>
<line x1="321.6" y1="496.986" x2="321.6" y2="498.7665" stroke="#333" stroke-width="1"/>
<line x1="318.6" y1="496.986" x2="324.6" y2="496.986" stroke="#333" stroke-width="1"/>
<line x1="318.6" y1="498.7665" x2="324.6" y2="498.7665" stroke="#333" stroke-width="1"/>
<circle cx="337.5" cy="437.63599999999997" r="1.5" fill="#4040ff"/>
<circle cx="343.6" cy="437.63599999999997" r="1.5" fill="#4040ff"/>
<circle cx="340.6" cy="473.8395" r="1.5" fill="#4040ff"/>
<circle cx="349" cy="439.06039999999996" r="1.5" fill="#f5841f"/>
<circle cx="353.5" cy="438.2295" r="1.5" fill="#f5841f"/>
<circle cx="351.3" cy="440.6035" r="1.5" fill="#f5841f"/>
<circle cx="249" cy="515.3845" r="1.5" fill="#3535ee"/>
<circle cx="252.5" cy="515.0284" r="1.5" fill="#3535ee"/>
<circle cx="259.8" cy="511.8235" r="1.5" fill="#e07010"/>
<circle cx="262.2" cy="514.791" r="1.5" fill="#e07010"/>
<circle cx="264.5" cy="511.23" r="1.5" fill="#e07010"/>
<path d="M279 499.53400000000005L281.2 503.33400000000006L276.8 503.33400000000006Z" fill="#3535ee" stroke="none" stroke-width="1"/>
<path d="M282.6 497.16L284.8 500.96000000000004L280.40000000000003 500.96000000000004Z" fill="#3535ee" stroke="none" stroke-width="1"/>
<rect x="276.9" y="504.2885" width="3.2" height="3.2" fill="#3535ee" stroke="none" stroke-width="1"/>
<rect x="281.4" y="504.2885" width="3.2" height="3.2" fill="#3535ee" stroke="none" stroke-width="1"/>
<circle cx="289.5" cy="503.8706" r="1.5" fill="#e07010"/>
<circle cx="292" cy="503.5145" r="1.5" fill="#e07010"/>
<circle cx="294.5" cy="504.108" r="1.5" fill="#e07010"/>
<rect x="306.9" y="509.63" width="3.2" height="3.2" fill="#3535ee" stroke="none" stroke-width="1"/>
<path d="M311.5 503.68850000000003L313.7 507.48850000000004L309.3 507.48850000000004Z" fill="#3535ee" stroke="none" stroke-width="1"/>
<rect x="311.4" y="509.63" width="3.2" height="3.2" fill="#3535ee" stroke="none" stroke-width="1"/>
<circle cx="318.8" cy="497.5795" r="1.5" fill="#e07010"/>
<circle cx="321.6" cy="496.986" r="1.5" fill="#e07010"/>
<circle cx="324" cy="497.81690000000003" r="1.5" fill="#e07010"/>
<text x="208.8" y="463.75" font-size="12.3" text-anchor="middle" dominant-baseline="central" fill="#222" stroke="#222" stroke-width="0.22" transform="rotate(-90 208.8 463.75)">% Death</text>
<text x="345.6" y="418.3" font-size="12" text-anchor="middle" dominant-baseline="central" fill="#222" stroke="#222" stroke-width="0.22">ns</text>
<line x1="339.8" y1="423.8" x2="351.7" y2="423.8" stroke="#222" stroke-width="1"/>
<circle cx="256" cy="422.4" r="1.8" fill="#4646ff"/>
<circle cx="256" cy="451.5" r="1.8" fill="#f5841f"/>
<text x="261.5" y="418.3" font-size="9.2" text-anchor="start" dominant-baseline="central" fill="#222" stroke="#222" stroke-width="0.22">Empty</text>
<text x="261.5" y="427.3" font-size="9.2" text-anchor="start" dominant-baseline="central" fill="#222" stroke="#222" stroke-width="0.22">Vector</text>
<text x="261.5" y="446.2" font-size="9.2" text-anchor="start" dominant-baseline="central" fill="#222" stroke="#222" stroke-width="0.22">shRNA</text>
<text x="261.5" y="455.6" font-size="9.2" text-anchor="start" dominant-baseline="central" fill="#222" stroke="#222" stroke-width="0.22">53BP1</text>
<text x="258.5" y="529.5" font-size="12.5" text-anchor="end" dominant-baseline="central" fill="#222" stroke="#222" stroke-width="0.22" transform="rotate(-45 258.5 529.5)">Vehicle</text>
<text x="288.5" y="529.5" font-size="12.5" text-anchor="end" dominant-baseline="central" fill="#222" stroke="#222" stroke-width="0.22" transform="rotate(-45 288.5 529.5)">CPI203</text>
<text x="318" y="529.5" font-size="12.5" text-anchor="end" dominant-baseline="central" fill="#222" stroke="#222" stroke-width="0.22" transform="rotate(-45 318 529.5)">Nutlin−3</text>
<text x="348" y="529.5" font-size="12.5" text-anchor="end" dominant-baseline="central" fill="#222" stroke="#222" stroke-width="0.22" transform="rotate(-45 348 529.5)">Combo</text>
<text x="358.4" y="391" font-size="23.5" text-anchor="start" dominant-baseline="alphabetic" fill="#000" font-weight="bold">K</text>
<line x1="400.7" y1="405.8" x2="400.7" y2="523.7" stroke="#222" stroke-width="1.6"/>
<line x1="400.7" y1="523.7" x2="524" y2="523.7" stroke="#222" stroke-width="1.6"/>
<line x1="398.2" y1="523.7" x2="400.7" y2="523.7" stroke="#222" stroke-width="1"/>
<text x="398.7" y="523.7" font-size="12.5" text-anchor="end" dominant-baseline="central" fill="#222" stroke="#222" stroke-width="0.22">0</text>
<line x1="398.2" y1="494.225" x2="400.7" y2="494.225" stroke="#222" stroke-width="1"/>
<text x="398.7" y="494.225" font-size="12.5" text-anchor="end" dominant-baseline="central" fill="#222" stroke="#222" stroke-width="0.22">25</text>
<line x1="398.2" y1="464.75" x2="400.7" y2="464.75" stroke="#222" stroke-width="1"/>
<text x="398.7" y="464.75" font-size="12.5" text-anchor="end" dominant-baseline="central" fill="#222" stroke="#222" stroke-width="0.22">50</text>
<line x1="398.2" y1="435.27500000000003" x2="400.7" y2="435.27500000000003" stroke="#222" stroke-width="1"/>
<text x="398.7" y="435.27500000000003" font-size="12.5" text-anchor="end" dominant-baseline="central" fill="#222" stroke="#222" stroke-width="0.22">75</text>
<line x1="398.2" y1="405.8" x2="400.7" y2="405.8" stroke="#222" stroke-width="1"/>
<text x="398.7" y="405.8" font-size="12.5" text-anchor="end" dominant-baseline="central" fill="#222" stroke="#222" stroke-width="0.22">100</text>
<rect x="407.7" y="516.2723000000001" width="10.0" height="7.4277000000000015" fill="none" stroke="#6262ff" stroke-width="1.0"/>
<rect x="418.2" y="516.2723000000001" width="10.300000000000011" height="7.4277000000000015" fill="none" stroke="#f7963e" stroke-width="1.0"/>
<rect x="436.8" y="504.01070000000004" width="10.199999999999989" height="19.689300000000003" fill="none" stroke="#6262ff" stroke-width="1.0"/>
<rect x="447.9" y="499.29470000000003" width="10.300000000000011" height="24.405300000000004" fill="none" stroke="#f7963e" stroke-width="1.0"/>
<rect x="466.5" y="509.78780000000006" width="10.0" height="13.912200000000004" fill="none" stroke="#6262ff" stroke-width="1.0"/>
<rect x="477.6" y="501.8885" width="10.0" height="21.811500000000006" fill="none" stroke="#f7963e" stroke-width="1.0"/>
<rect x="495.9" y="449.65880000000004" width="10.5" height="74.04120000000002" fill="none" stroke="#6262ff" stroke-width="1.0"/>
<rect x="507" y="449.65880000000004" width="10.5" height="74.04120000000002" fill="none" stroke="#f7963e" stroke-width="1.0"/>
<line x1="501.2" y1="430.2053" x2="501.2" y2="471.47030000000007" stroke="#666" stroke-width="1"/>
<line x1="496.7" y1="430.2053" x2="505.7" y2="430.2053" stroke="#666" stroke-width="1"/>
<line x1="496.7" y1="471.47030000000007" x2="505.7" y2="471.47030000000007" stroke="#666" stroke-width="1"/>
<line x1="512.2" y1="434.096" x2="512.2" y2="467.34380000000004" stroke="#666" stroke-width="1"/>
<line x1="507.70000000000005" y1="434.096" x2="516.7" y2="434.096" stroke="#666" stroke-width="1"/>
<line x1="507.70000000000005" y1="467.34380000000004" x2="516.7" y2="467.34380000000004" stroke="#666" stroke-width="1"/>
<line x1="482.6" y1="492.10280000000006" x2="482.6" y2="512.3816" stroke="#777" stroke-width="1"/>
<line x1="478.1" y1="492.10280000000006" x2="487.1" y2="492.10280000000006" stroke="#777" stroke-width="1"/>
<line x1="478.1" y1="512.3816" x2="487.1" y2="512.3816" stroke="#777" stroke-width="1"/>
<line x1="412.7" y1="515.2112000000001" x2="412.7" y2="517.0976" stroke="#333" stroke-width="1"/>
<line x1="410.2" y1="515.2112000000001" x2="415.2" y2="515.2112000000001" stroke="#333" stroke-width="1"/>
<line x1="410.2" y1="517.0976" x2="415.2" y2="517.0976" stroke="#333" stroke-width="1"/>
<line x1="423.3" y1="515.2112000000001" x2="423.3" y2="517.0976" stroke="#333" stroke-width="1"/>
<line x1="420.8" y1="515.2112000000001" x2="425.8" y2="515.2112000000001" stroke="#333" stroke-width="1"/>
<line x1="420.8" y1="517.0976" x2="425.8" y2="517.0976" stroke="#333" stroke-width="1"/>
<line x1="441.9" y1="500.12000000000006" x2="441.9" y2="507.78350000000006" stroke="#333" stroke-width="1"/>
<line x1="438.4" y1="500.12000000000006" x2="445.4" y2="500.12000000000006" stroke="#333" stroke-width="1"/>
<line x1="438.4" y1="507.78350000000006" x2="445.4" y2="507.78350000000006" stroke="#333" stroke-width="1"/>
<line x1="453" y1="498.35150000000004" x2="453" y2="500.35580000000004" stroke="#333" stroke-width="1"/>
<line x1="450" y1="498.35150000000004" x2="456" y2="498.35150000000004" stroke="#333" stroke-width="1"/>
<line x1="450" y1="500.35580000000004" x2="456" y2="500.35580000000004" stroke="#333" stroke-width="1"/>
<line x1="471.5" y1="506.60450000000003" x2="471.5" y2="512.4995" stroke="#333" stroke-width="1"/>
<line x1="468.0" y1="506.60450000000003" x2="475.0" y2="506.60450000000003" stroke="#333" stroke-width="1"/>
<line x1="468.0" y1="512.4995" x2="475.0" y2="512.4995" stroke="#333" stroke-width="1"/>
<circle cx="497.9" cy="438.2225" r="1.5" fill="#4040ff"/>
<circle cx="504" cy="438.2225" r="1.5" fill="#4040ff"/>
<circle cx="501.2" cy="476.54" r="1.5" fill="#4040ff"/>
<circle cx="509" cy="440.58050000000003" r="1.5" fill="#f5841f"/>
<circle cx="515.8" cy="440.58050000000003" r="1.5" fill="#f5841f"/>
<circle cx="512.2" cy="471.2345" r="1.5" fill="#f5841f"/>
<circle cx="410" cy="515.6828" r="1.5" fill="#3535ee"/>
<circle cx="414.5" cy="515.6828" r="1.5" fill="#3535ee"/>
<circle cx="420.5" cy="515.9186000000001" r="1.5" fill="#e07010"/>
<circle cx="424" cy="515.6828" r="1.5" fill="#e07010"/>
<circle cx="426.5" cy="515.9186000000001" r="1.5" fill="#e07010"/>
<path d="M440 500.86750000000006L442.2 504.6675000000001L437.8 504.6675000000001Z" fill="#3535ee" stroke="none" stroke-width="1"/>
<path d="M443 497.9200000000001L445.2 501.7200000000001L440.8 501.7200000000001Z" fill="#3535ee" stroke="none" stroke-width="1"/>
<rect x="436.9" y="505.0045" width="3.2" height="3.2" fill="#3535ee" stroke="none" stroke-width="1"/>
<circle cx="451" cy="499.5305" r="1.5" fill="#e07010"/>
<circle cx="453" cy="498.94100000000003" r="1.5" fill="#e07010"/>
<circle cx="455.5" cy="499.1768" r="1.5" fill="#e07010"/>
<rect x="467.4" y="510.31" width="3.2" height="3.2" fill="#3535ee" stroke="none" stroke-width="1"/>
<path d="M472 504.40450000000004L474.2 508.20450000000005L469.8 508.20450000000005Z" fill="#3535ee" stroke="none" stroke-width="1"/>
<rect x="472.4" y="510.31" width="3.2" height="3.2" fill="#3535ee" stroke="none" stroke-width="1"/>
<path d="M481 506.17300000000006L483.2 509.97300000000007L478.8 509.97300000000007Z" fill="#e07010" stroke="none" stroke-width="1"/>
<path d="M484.5 494.9725L486.7 498.77250000000004L482.3 498.77250000000004Z" fill="#e07010" stroke="none" stroke-width="1"/>
<path d="M482.6 509.12050000000005L484.8 512.9205000000001L480.40000000000003 512.9205000000001Z" fill="#e07010" stroke="none" stroke-width="1"/>
<text x="370.2" y="464.75" font-size="12.3" text-anchor="middle" dominant-baseline="central" fill="#222" stroke="#222" stroke-width="0.22" transform="rotate(-90 370.2 464.75)">% Death</text>
<text x="506.4" y="420.2" font-size="12" text-anchor="middle" dominant-baseline="central" fill="#222" stroke="#222" stroke-width="0.22">ns</text>
<line x1="500.5" y1="425.5" x2="512.5" y2="425.5" stroke="#222" stroke-width="1"/>
<circle cx="417.7" cy="424.4" r="1.8" fill="#4646ff"/>
<circle cx="417.7" cy="453.5" r="1.8" fill="#f5841f"/>
<text x="423" y="419.6" font-size="9.2" text-anchor="start" dominant-baseline="central" fill="#222" stroke="#222" stroke-width="0.22">Empty</text>
<text x="423" y="428.8" font-size="9.2" text-anchor="start" dominant-baseline="central" fill="#222" stroke="#222" stroke-width="0.22">Vector</text>
<text x="423" y="448.8" font-size="9.2" text-anchor="start" dominant-baseline="central" fill="#222" stroke="#222" stroke-width="0.22">shRNA</text>
<text x="423" y="458.5" font-size="9.2" text-anchor="start" dominant-baseline="central" fill="#222" stroke="#222" stroke-width="0.22">JNK 1+2</text>
<text x="420.5" y="530" font-size="12.5" text-anchor="end" dominant-baseline="central" fill="#222" stroke="#222" stroke-width="0.22" transform="rotate(-45 420.5 530)">Vehicle</text>
<text x="450" y="530" font-size="12.5" text-anchor="end" dominant-baseline="central" fill="#222" stroke="#222" stroke-width="0.22" transform="rotate(-45 450 530)">CPI203</text>
<text x="479.5" y="530" font-size="12.5" text-anchor="end" dominant-baseline="central" fill="#222" stroke="#222" stroke-width="0.22" transform="rotate(-45 479.5 530)">Nutlin−3</text>
<text x="509" y="530" font-size="12.5" text-anchor="end" dominant-baseline="central" fill="#222" stroke="#222" stroke-width="0.22" transform="rotate(-45 509 530)">Combo</text>
<text x="521.2" y="391" font-size="23.5" text-anchor="start" dominant-baseline="alphabetic" fill="#000" font-weight="bold">L</text>
<line x1="576.4" y1="406.8" x2="576.4" y2="523.5" stroke="#1a1a1a" stroke-width="1.3"/>
<line x1="576.4" y1="523.5" x2="675.6" y2="523.5" stroke="#1a1a1a" stroke-width="1.3"/>
<line x1="573.4" y1="523.5" x2="576.4" y2="523.5" stroke="#333" stroke-width="1"/>
<text x="564.9" y="523.5" font-size="11.5" text-anchor="end" dominant-baseline="central" fill="#333" stroke="#333" stroke-width="0.22" textLength="6" lengthAdjust="spacingAndGlyphs">0</text>
<line x1="573.4" y1="500.16" x2="576.4" y2="500.16" stroke="#333" stroke-width="1"/>
<text x="564.9" y="500.16" font-size="11.5" text-anchor="end" dominant-baseline="central" fill="#333" stroke="#333" stroke-width="0.22" textLength="23" lengthAdjust="spacingAndGlyphs">1000</text>
<line x1="573.4" y1="476.82" x2="576.4" y2="476.82" stroke="#333" stroke-width="1"/>
<text x="564.9" y="476.82" font-size="11.5" text-anchor="end" dominant-baseline="central" fill="#333" stroke="#333" stroke-width="0.22" textLength="23" lengthAdjust="spacingAndGlyphs">2000</text>
<line x1="573.4" y1="453.48" x2="576.4" y2="453.48" stroke="#333" stroke-width="1"/>
<text x="564.9" y="453.48" font-size="11.5" text-anchor="end" dominant-baseline="central" fill="#333" stroke="#333" stroke-width="0.22" textLength="23" lengthAdjust="spacingAndGlyphs">3000</text>
<line x1="573.4" y1="430.14" x2="576.4" y2="430.14" stroke="#333" stroke-width="1"/>
<text x="564.9" y="430.14" font-size="11.5" text-anchor="end" dominant-baseline="central" fill="#333" stroke="#333" stroke-width="0.22" textLength="23" lengthAdjust="spacingAndGlyphs">4000</text>
<line x1="573.4" y1="406.8" x2="576.4" y2="406.8" stroke="#333" stroke-width="1"/>
<text x="564.9" y="406.8" font-size="11.5" text-anchor="end" dominant-baseline="central" fill="#333" stroke="#333" stroke-width="0.22" textLength="23" lengthAdjust="spacingAndGlyphs">5000</text>
<line x1="576.4" y1="523.5" x2="576.4" y2="526.5" stroke="#333" stroke-width="1"/>
<line x1="600.7" y1="523.5" x2="600.7" y2="526.5" stroke="#333" stroke-width="1"/>
<line x1="625.5" y1="523.5" x2="625.5" y2="526.5" stroke="#333" stroke-width="1"/>
<line x1="650.5" y1="523.5" x2="650.5" y2="526.5" stroke="#333" stroke-width="1"/>
<line x1="675.6" y1="523.5" x2="675.6" y2="526.5" stroke="#333" stroke-width="1"/>
<rect x="584.9" y="498.7596" width="7.600000000000023" height="24.740399999999998" fill="#4472c4" stroke="none" stroke-width="1"/>
<rect x="609.6" y="434.1078" width="7.699999999999932" height="89.39219999999999" fill="#4472c4" stroke="none" stroke-width="1"/>
<rect x="634.4" y="512.2968" width="7.7000000000000455" height="11.203199999999999" fill="#4472c4" stroke="none" stroke-width="1"/>
<rect x="659.2" y="484.28880000000004" width="7.699999999999932" height="39.21119999999999" fill="#4472c4" stroke="none" stroke-width="1"/>
<text x="531" y="466.8" font-size="12" text-anchor="middle" dominant-baseline="central" fill="#333" stroke="#333" stroke-width="0.22" transform="rotate(-90 531 466.8)">Total p53 peaks</text>
<text x="591" y="533" font-size="10.8" text-anchor="end" dominant-baseline="central" fill="#333" stroke="#333" stroke-width="0.22" transform="rotate(-45 591 533)">DMSO</text>
<text x="615.5" y="533" font-size="10.8" text-anchor="end" dominant-baseline="central" fill="#333" stroke="#333" stroke-width="0.22" transform="rotate(-45 615.5 533)">Nutlin</text>
<text x="640.5" y="533" font-size="10.8" text-anchor="end" dominant-baseline="central" fill="#333" stroke="#333" stroke-width="0.22" transform="rotate(-45 640.5 533)">CPI</text>
<text x="665" y="533" font-size="10.8" text-anchor="end" dominant-baseline="central" fill="#333" stroke="#333" stroke-width="0.22" transform="rotate(-45 665 533)">Combo</text>
<text x="-0.3" y="595.5" font-size="23.5" text-anchor="start" dominant-baseline="alphabetic" fill="#000" font-weight="bold">M</text>
<text x="57.3" y="578.9" font-size="11.5" text-anchor="middle" dominant-baseline="central" fill="#222" stroke="#222" stroke-width="0.22">ChIP peak</text>
<text x="57.3" y="592.8" font-size="11.5" text-anchor="middle" dominant-baseline="central" fill="#222" stroke="#222" stroke-width="0.22">intensity</text>
<rect x="28.4" y="602" width="50.9" height="14.5" fill="url(#mbar)" stroke="none" stroke-width="1"/>
<text x="32" y="623.8" font-size="11.5" text-anchor="middle" dominant-baseline="central" fill="#222" stroke="#222" stroke-width="0.22">-200</text>
<text x="76.7" y="623.8" font-size="11.5" text-anchor="middle" dominant-baseline="central" fill="#222" stroke="#222" stroke-width="0.22">800</text>
<rect x="33.5" y="631.2" width="13.3" height="9.683333333333332" fill="#ff0000" stroke="none" stroke-width="1"/>
<rect x="46.5" y="631.2" width="13.7" height="9.683333333333332" fill="#a2a2f2" stroke="none" stroke-width="1"/>
<rect x="59.9" y="631.2" width="13.300000000000008" height="9.683333333333332" fill="#ff0505" stroke="none" stroke-width="1"/>
<rect x="72.9" y="631.2" width="12.899999999999995" height="9.683333333333332" fill="#f5f5f5" stroke="none" stroke-width="1"/>
<text x="87.5" y="636.7916666666667" font-size="9.1" text-anchor="start" dominant-baseline="central" fill="#222" stroke="#222" stroke-width="0.22">GADD45A</text>
<rect x="33.5" y="640.5833333333334" width="13.3" height="9.683333333333332" fill="#ff0000" stroke="none" stroke-width="1"/>
<rect x="46.5" y="640.5833333333334" width="13.7" height="9.683333333333332" fill="#f5dada" stroke="none" stroke-width="1"/>
<rect x="59.9" y="640.5833333333334" width="13.300000000000008" height="9.683333333333332" fill="#f24343" stroke="none" stroke-width="1"/>
<rect x="72.9" y="640.5833333333334" width="12.899999999999995" height="9.683333333333332" fill="#f5f5f5" stroke="none" stroke-width="1"/>
<text x="87.5" y="646.1750000000001" font-size="9.1" text-anchor="start" dominant-baseline="central" fill="#222" stroke="#222" stroke-width="0.22">TNFRSF10B</text>
<rect x="33.5" y="649.9666666666667" width="13.3" height="9.683333333333332" fill="#ff0000" stroke="none" stroke-width="1"/>
<rect x="46.5" y="649.9666666666667" width="13.7" height="9.683333333333332" fill="#0000ff" stroke="none" stroke-width="1"/>
<rect x="59.9" y="649.9666666666667" width="13.300000000000008" height="9.683333333333332" fill="#ff0000" stroke="none" stroke-width="1"/>
<rect x="72.9" y="649.9666666666667" width="12.899999999999995" height="9.683333333333332" fill="#f5f5f5" stroke="none" stroke-width="1"/>
<text x="87.5" y="655.5583333333334" font-size="9.1" text-anchor="start" dominant-baseline="central" fill="#222" stroke="#222" stroke-width="0.22">BBC3</text>
<rect x="33.5" y="659.35" width="13.3" height="9.683333333333332" fill="#ff0000" stroke="none" stroke-width="1"/>
<rect x="46.5" y="659.35" width="13.7" height="9.683333333333332" fill="#0000ff" stroke="none" stroke-width="1"/>
<rect x="59.9" y="659.35" width="13.300000000000008" height="9.683333333333332" fill="#ff0000" stroke="none" stroke-width="1"/>
<rect x="72.9" y="659.35" width="12.899999999999995" height="9.683333333333332" fill="#f5f5f5" stroke="none" stroke-width="1"/>
<text x="87.5" y="664.9416666666667" font-size="9.1" text-anchor="start" dominant-baseline="central" fill="#222" stroke="#222" stroke-width="0.22">CDKN1A</text>
<rect x="33.5" y="668.7333333333333" width="13.3" height="9.683333333333332" fill="#ff0000" stroke="none" stroke-width="1"/>
<rect x="46.5" y="668.7333333333333" width="13.7" height="9.683333333333332" fill="#0000ff" stroke="none" stroke-width="1"/>
<rect x="59.9" y="668.7333333333333" width="13.300000000000008" height="9.683333333333332" fill="#ff0000" stroke="none" stroke-width="1"/>
<rect x="72.9" y="668.7333333333333" width="12.899999999999995" height="9.683333333333332" fill="#f5f5f5" stroke="none" stroke-width="1"/>
<text x="87.5" y="674.325" font-size="9.1" text-anchor="start" dominant-baseline="central" fill="#222" stroke="#222" stroke-width="0.22">ZMAT3</text>
<rect x="33.5" y="678.1166666666667" width="13.3" height="9.683333333333332" fill="#ff0000" stroke="none" stroke-width="1"/>
<rect x="46.5" y="678.1166666666667" width="13.7" height="9.683333333333332" fill="#0000ff" stroke="none" stroke-width="1"/>
<rect x="59.9" y="678.1166666666667" width="13.300000000000008" height="9.683333333333332" fill="#ff0000" stroke="none" stroke-width="1"/>
<rect x="72.9" y="678.1166666666667" width="12.899999999999995" height="9.683333333333332" fill="#f5f5f5" stroke="none" stroke-width="1"/>
<text x="87.5" y="683.7083333333334" font-size="9.1" text-anchor="start" dominant-baseline="central" fill="#222" stroke="#222" stroke-width="0.22">MDM2</text>
<rect x="33.5" y="687.5" width="13.3" height="9.683333333333332" fill="#ff0000" stroke="none" stroke-width="1"/>
<rect x="46.5" y="687.5" width="13.7" height="9.683333333333332" fill="#0000ff" stroke="none" stroke-width="1"/>
<rect x="59.9" y="687.5" width="13.300000000000008" height="9.683333333333332" fill="#ff0000" stroke="none" stroke-width="1"/>
<rect x="72.9" y="687.5" width="12.899999999999995" height="9.683333333333332" fill="#f5f5f5" stroke="none" stroke-width="1"/>
<text x="87.5" y="693.0916666666667" font-size="9.1" text-anchor="start" dominant-baseline="central" fill="#222" stroke="#222" stroke-width="0.22">RRM2B</text>
<rect x="33.5" y="696.8833333333333" width="13.3" height="9.683333333333332" fill="#ff0000" stroke="none" stroke-width="1"/>
<rect x="46.5" y="696.8833333333333" width="13.7" height="9.683333333333332" fill="#3838fc" stroke="none" stroke-width="1"/>
<rect x="59.9" y="696.8833333333333" width="13.300000000000008" height="9.683333333333332" fill="#f5abab" stroke="none" stroke-width="1"/>
<rect x="72.9" y="696.8833333333333" width="12.899999999999995" height="9.683333333333332" fill="#f5f5f5" stroke="none" stroke-width="1"/>
<text x="87.5" y="702.475" font-size="9.1" text-anchor="start" dominant-baseline="central" fill="#222" stroke="#222" stroke-width="0.22">TP53INP1</text>
<rect x="33.5" y="706.2666666666667" width="13.3" height="9.683333333333332" fill="#f24545" stroke="none" stroke-width="1"/>
<rect x="46.5" y="706.2666666666667" width="13.7" height="9.683333333333332" fill="#f5e7e7" stroke="none" stroke-width="1"/>
<rect x="59.9" y="706.2666666666667" width="13.300000000000008" height="9.683333333333332" fill="#f5c6c6" stroke="none" stroke-width="1"/>
<rect x="72.9" y="706.2666666666667" width="12.899999999999995" height="9.683333333333332" fill="#f5f5f5" stroke="none" stroke-width="1"/>
<text x="87.5" y="711.8583333333333" font-size="9.1" text-anchor="start" dominant-baseline="central" fill="#222" stroke="#222" stroke-width="0.22">SERTAD</text>
<rect x="33.5" y="715.65" width="13.3" height="9.683333333333332" fill="#f24a4a" stroke="none" stroke-width="1"/>
<rect x="46.5" y="715.65" width="13.7" height="9.683333333333332" fill="#d6d6f5" stroke="none" stroke-width="1"/>
<rect x="59.9" y="715.65" width="13.300000000000008" height="9.683333333333332" fill="#f5d0d0" stroke="none" stroke-width="1"/>
<rect x="72.9" y="715.65" width="12.899999999999995" height="9.683333333333332" fill="#f5f5f5" stroke="none" stroke-width="1"/>
<text x="87.5" y="721.2416666666667" font-size="9.1" text-anchor="start" dominant-baseline="central" fill="#222" stroke="#222" stroke-width="0.22">ZNF337</text>
<rect x="33.5" y="725.0333333333333" width="13.3" height="9.683333333333332" fill="#f51c1c" stroke="none" stroke-width="1"/>
<rect x="46.5" y="725.0333333333333" width="13.7" height="9.683333333333332" fill="#f5e6e6" stroke="none" stroke-width="1"/>
<rect x="59.9" y="725.0333333333333" width="13.300000000000008" height="9.683333333333332" fill="#f5c6c6" stroke="none" stroke-width="1"/>
<rect x="72.9" y="725.0333333333333" width="12.899999999999995" height="9.683333333333332" fill="#f5f5f5" stroke="none" stroke-width="1"/>
<text x="87.5" y="730.625" font-size="9.1" text-anchor="start" dominant-baseline="central" fill="#222" stroke="#222" stroke-width="0.22">TNFRSF10D</text>
<rect x="33.5" y="734.4166666666667" width="13.3" height="9.683333333333332" fill="#f52222" stroke="none" stroke-width="1"/>
<rect x="46.5" y="734.4166666666667" width="13.7" height="9.683333333333332" fill="#8c8cf5" stroke="none" stroke-width="1"/>
<rect x="59.9" y="734.4166666666667" width="13.300000000000008" height="9.683333333333332" fill="#e8e8f6" stroke="none" stroke-width="1"/>
<rect x="72.9" y="734.4166666666667" width="12.899999999999995" height="9.683333333333332" fill="#f5f5f5" stroke="none" stroke-width="1"/>
<text x="87.5" y="740.0083333333334" font-size="9.1" text-anchor="start" dominant-baseline="central" fill="#222" stroke="#222" stroke-width="0.22">BTG2</text>
<rect x="33.5" y="743.8" width="13.3" height="9.683333333333332" fill="#ff0000" stroke="none" stroke-width="1"/>
<rect x="46.5" y="743.8" width="13.7" height="9.683333333333332" fill="#5555f8" stroke="none" stroke-width="1"/>
<rect x="59.9" y="743.8" width="13.300000000000008" height="9.683333333333332" fill="#f5a8a8" stroke="none" stroke-width="1"/>
<rect x="72.9" y="743.8" width="12.899999999999995" height="9.683333333333332" fill="#f5f5f5" stroke="none" stroke-width="1"/>
<text x="87.5" y="749.3916666666667" font-size="9.1" text-anchor="start" dominant-baseline="central" fill="#222" stroke="#222" stroke-width="0.22">PMAIP1</text>
<rect x="33.5" y="753.1833333333334" width="13.3" height="9.683333333333332" fill="#f59595" stroke="none" stroke-width="1"/>
<rect x="46.5" y="753.1833333333334" width="13.7" height="9.683333333333332" fill="#f5e8e8" stroke="none" stroke-width="1"/>
<rect x="59.9" y="753.1833333333334" width="13.300000000000008" height="9.683333333333332" fill="#f5e2e2" stroke="none" stroke-width="1"/>
<rect x="72.9" y="753.1833333333334" width="12.899999999999995" height="9.683333333333332" fill="#f5f5f5" stroke="none" stroke-width="1"/>
<text x="87.5" y="758.7750000000001" font-size="9.1" text-anchor="start" dominant-baseline="central" fill="#222" stroke="#222" stroke-width="0.22">SESN2</text>
<rect x="33.5" y="762.5666666666667" width="13.3" height="9.683333333333332" fill="#f59595" stroke="none" stroke-width="1"/>
<rect x="46.5" y="762.5666666666667" width="13.7" height="9.683333333333332" fill="#d5d5f5" stroke="none" stroke-width="1"/>
<rect x="59.9" y="762.5666666666667" width="13.300000000000008" height="9.683333333333332" fill="#f5e0e0" stroke="none" stroke-width="1"/>
<rect x="72.9" y="762.5666666666667" width="12.899999999999995" height="9.683333333333332" fill="#f5f5f5" stroke="none" stroke-width="1"/>
<text x="87.5" y="768.1583333333334" font-size="9.1" text-anchor="start" dominant-baseline="central" fill="#222" stroke="#222" stroke-width="0.22">GDF15</text>
<rect x="33.5" y="771.95" width="13.3" height="9.683333333333332" fill="#f5a8a8" stroke="none" stroke-width="1"/>
<rect x="46.5" y="771.95" width="13.7" height="9.683333333333332" fill="#f5f5f5" stroke="none" stroke-width="1"/>
<rect x="59.9" y="771.95" width="13.300000000000008" height="9.683333333333332" fill="#f5dede" stroke="none" stroke-width="1"/>
<rect x="72.9" y="771.95" width="12.899999999999995" height="9.683333333333332" fill="#f5f5f5" stroke="none" stroke-width="1"/>
<text x="87.5" y="777.5416666666667" font-size="9.1" text-anchor="start" dominant-baseline="central" fill="#222" stroke="#222" stroke-width="0.22">ANKRA2</text>
<rect x="33.5" y="781.3333333333334" width="13.3" height="9.683333333333332" fill="#f59a9a" stroke="none" stroke-width="1"/>
<rect x="46.5" y="781.3333333333334" width="13.7" height="9.683333333333332" fill="#f5f5f5" stroke="none" stroke-width="1"/>
<rect x="59.9" y="781.3333333333334" width="13.300000000000008" height="9.683333333333332" fill="#f5c5c5" stroke="none" stroke-width="1"/>
<rect x="72.9" y="781.3333333333334" width="12.899999999999995" height="9.683333333333332" fill="#f5f5f5" stroke="none" stroke-width="1"/>
<text x="87.5" y="786.9250000000001" font-size="9.1" text-anchor="start" dominant-baseline="central" fill="#222" stroke="#222" stroke-width="0.22">FUCA1</text>
<rect x="33.5" y="790.7166666666667" width="13.3" height="9.683333333333332" fill="#f5a0a0" stroke="none" stroke-width="1"/>
<rect x="46.5" y="790.7166666666667" width="13.7" height="9.683333333333332" fill="#f5d8d8" stroke="none" stroke-width="1"/>
<rect x="59.9" y="790.7166666666667" width="13.300000000000008" height="9.683333333333332" fill="#f5e2e2" stroke="none" stroke-width="1"/>
<rect x="72.9" y="790.7166666666667" width="12.899999999999995" height="9.683333333333332" fill="#f5f5f5" stroke="none" stroke-width="1"/>
<text x="87.5" y="796.3083333333334" font-size="9.1" text-anchor="start" dominant-baseline="central" fill="#222" stroke="#222" stroke-width="0.22">DRAM1</text>
<rect x="33.5" y="800.1" width="13.3" height="9.683333333333332" fill="#f5dfdf" stroke="none" stroke-width="1"/>
<rect x="46.5" y="800.1" width="13.7" height="9.683333333333332" fill="#f5f5f5" stroke="none" stroke-width="1"/>
<rect x="59.9" y="800.1" width="13.300000000000008" height="9.683333333333332" fill="#f5f5f5" stroke="none" stroke-width="1"/>
<rect x="72.9" y="800.1" width="12.899999999999995" height="9.683333333333332" fill="#f5f5f5" stroke="none" stroke-width="1"/>
<text x="87.5" y="805.6916666666667" font-size="9.1" text-anchor="start" dominant-baseline="central" fill="#222" stroke="#222" stroke-width="0.22">TP53I3</text>
<rect x="33.5" y="809.4833333333333" width="13.3" height="9.683333333333332" fill="#f5dcdc" stroke="none" stroke-width="1"/>
<rect x="46.5" y="809.4833333333333" width="13.7" height="9.683333333333332" fill="#f5f5f5" stroke="none" stroke-width="1"/>
<rect x="59.9" y="809.4833333333333" width="13.300000000000008" height="9.683333333333332" fill="#f5f5f5" stroke="none" stroke-width="1"/>
<rect x="72.9" y="809.4833333333333" width="12.899999999999995" height="9.683333333333332" fill="#f5f5f5" stroke="none" stroke-width="1"/>
<text x="87.5" y="815.075" font-size="9.1" text-anchor="start" dominant-baseline="central" fill="#222" stroke="#222" stroke-width="0.22">LAPTM5</text>
<rect x="33.5" y="818.8666666666667" width="13.3" height="9.683333333333332" fill="#f5e5e5" stroke="none" stroke-width="1"/>
<rect x="46.5" y="818.8666666666667" width="13.7" height="9.683333333333332" fill="#f5f5f5" stroke="none" stroke-width="1"/>
<rect x="59.9" y="818.8666666666667" width="13.300000000000008" height="9.683333333333332" fill="#f5e2e2" stroke="none" stroke-width="1"/>
<rect x="72.9" y="818.8666666666667" width="12.899999999999995" height="9.683333333333332" fill="#f5f5f5" stroke="none" stroke-width="1"/>
<text x="87.5" y="824.4583333333334" font-size="9.1" text-anchor="start" dominant-baseline="central" fill="#222" stroke="#222" stroke-width="0.22">RAP2B</text>
<rect x="33.5" y="828.25" width="13.3" height="9.683333333333332" fill="#f5e5e5" stroke="none" stroke-width="1"/>
<rect x="46.5" y="828.25" width="13.7" height="9.683333333333332" fill="#f5f5f5" stroke="none" stroke-width="1"/>
<rect x="59.9" y="828.25" width="13.300000000000008" height="9.683333333333332" fill="#f5f5f5" stroke="none" stroke-width="1"/>
<rect x="72.9" y="828.25" width="12.899999999999995" height="9.683333333333332" fill="#f5f5f5" stroke="none" stroke-width="1"/>
<text x="87.5" y="833.8416666666667" font-size="9.1" text-anchor="start" dominant-baseline="central" fill="#222" stroke="#222" stroke-width="0.22">TGFA</text>
<rect x="33.5" y="837.6333333333333" width="13.3" height="9.683333333333332" fill="#f5e3e3" stroke="none" stroke-width="1"/>
<rect x="46.5" y="837.6333333333333" width="13.7" height="9.683333333333332" fill="#f5f5f5" stroke="none" stroke-width="1"/>
<rect x="59.9" y="837.6333333333333" width="13.300000000000008" height="9.683333333333332" fill="#f5f5f5" stroke="none" stroke-width="1"/>
<rect x="72.9" y="837.6333333333333" width="12.899999999999995" height="9.683333333333332" fill="#f5f5f5" stroke="none" stroke-width="1"/>
<text x="87.5" y="843.225" font-size="9.1" text-anchor="start" dominant-baseline="central" fill="#222" stroke="#222" stroke-width="0.22">IER5</text>
<rect x="33.5" y="847.0166666666667" width="13.3" height="9.683333333333332" fill="#f5f5f5" stroke="none" stroke-width="1"/>
<rect x="46.5" y="847.0166666666667" width="13.7" height="9.683333333333332" fill="#f5f5f5" stroke="none" stroke-width="1"/>
<rect x="59.9" y="847.0166666666667" width="13.300000000000008" height="9.683333333333332" fill="#f5f5f5" stroke="none" stroke-width="1"/>
<rect x="72.9" y="847.0166666666667" width="12.899999999999995" height="9.683333333333332" fill="#f5f5f5" stroke="none" stroke-width="1"/>
<text x="87.5" y="852.6083333333333" font-size="9.1" text-anchor="start" dominant-baseline="central" fill="#222" stroke="#222" stroke-width="0.22">ARHGEF3</text>
<text x="38.9" y="865.3" font-size="11.5" text-anchor="end" dominant-baseline="central" fill="#222" stroke="#222" stroke-width="0.22" transform="rotate(-90 38.9 865.3)">p53 Nutlin</text>
<text x="53.9" y="865.3" font-size="11.5" text-anchor="end" dominant-baseline="central" fill="#222" stroke="#222" stroke-width="0.22" transform="rotate(-90 53.9 865.3)">p53 CPI</text>
<text x="67" y="865.3" font-size="11.5" text-anchor="end" dominant-baseline="central" fill="#222" stroke="#222" stroke-width="0.22" transform="rotate(-90 67 865.3)">p53 combo</text>
<text x="80.1" y="865.3" font-size="11.5" text-anchor="end" dominant-baseline="central" fill="#222" stroke="#222" stroke-width="0.22" transform="rotate(-90 80.1 865.3)">p53 DMSO</text>
<text x="169.8" y="596" font-size="23.5" text-anchor="start" dominant-baseline="alphabetic" fill="#000" font-weight="bold">N</text>
<text x="311" y="620" font-size="12" text-anchor="middle" dominant-baseline="central" fill="#222" stroke="#222" stroke-width="0.22" font-style="italic">MDM2</text>
<line x1="210.5" y1="630" x2="210.5" y2="800" stroke="#f7c8c8" stroke-width="0.8"/>
<text x="210.2" y="635" font-size="4.3" text-anchor="end" dominant-baseline="central" fill="#333" stroke="#333" stroke-width="0.12">Scale</text>
<text x="210.2" y="641.3" font-size="4.3" text-anchor="end" dominant-baseline="central" fill="#333" stroke="#333" stroke-width="0.12">chr12:</text>
<text x="272.3" y="635" font-size="4.3" text-anchor="end" dominant-baseline="central" fill="#333" stroke="#333" stroke-width="0.12">20 kb</text>
<line x1="273.9" y1="635.5" x2="342.2" y2="635.5" stroke="#444" stroke-width="0.7"/>
<line x1="274.2" y1="633.5" x2="274.2" y2="637.5" stroke="#444" stroke-width="0.7"/>
<line x1="342.2" y1="633.5" x2="342.2" y2="637.5" stroke="#444" stroke-width="0.7"/>
<text x="345.2" y="635" font-size="4.3" text-anchor="start" dominant-baseline="central" fill="#333" stroke="#333" stroke-width="0.12">hg19</text>
<text x="235.89999999999998" y="641.3" font-size="4.3" text-anchor="end" dominant-baseline="central" fill="#333" stroke="#333" stroke-width="0.12">69,200,000</text>
<line x1="236.7" y1="639.5" x2="236.7" y2="643.2" stroke="#333" stroke-width="0.5"/>
<text x="270.7" y="641.3" font-size="4.3" text-anchor="end" dominant-baseline="central" fill="#333" stroke="#333" stroke-width="0.12">69,210,000</text>
<line x1="271.5" y1="639.5" x2="271.5" y2="643.2" stroke="#333" stroke-width="0.5"/>
<text x="305.2" y="641.3" font-size="4.3" text-anchor="end" dominant-baseline="central" fill="#333" stroke="#333" stroke-width="0.12">69,220,000</text>
<line x1="306" y1="639.5" x2="306" y2="643.2" stroke="#333" stroke-width="0.5"/>
<text x="339.7" y="641.3" font-size="4.3" text-anchor="end" dominant-baseline="central" fill="#333" stroke="#333" stroke-width="0.12">69,230,000</text>
<line x1="340.5" y1="639.5" x2="340.5" y2="643.2" stroke="#333" stroke-width="0.5"/>
<text x="374.7" y="641.3" font-size="4.3" text-anchor="end" dominant-baseline="central" fill="#333" stroke="#333" stroke-width="0.12">69,240,000</text>
<line x1="375.5" y1="639.5" x2="375.5" y2="643.2" stroke="#333" stroke-width="0.5"/>
<text x="207.5" y="646.5" font-size="4.3" text-anchor="end" dominant-baseline="central" fill="#444" stroke="#444" stroke-width="0.12">24.1456</text>
<line x1="208" y1="646.5" x2="209.8" y2="646.5" stroke="#444" stroke-width="0.5"/>
<text x="207.5" y="682.6" font-size="4.3" text-anchor="end" dominant-baseline="central" fill="#444" stroke="#444" stroke-width="0.12">24.1456</text>
<line x1="208" y1="682.6" x2="209.8" y2="682.6" stroke="#444" stroke-width="0.5"/>
<text x="207.5" y="717.5" font-size="4.3" text-anchor="end" dominant-baseline="central" fill="#444" stroke="#444" stroke-width="0.12">24.1456</text>
<line x1="208" y1="717.5" x2="209.8" y2="717.5" stroke="#444" stroke-width="0.5"/>
<text x="207.5" y="753.5" font-size="4.3" text-anchor="end" dominant-baseline="central" fill="#444" stroke="#444" stroke-width="0.12">24.1456</text>
<line x1="208" y1="753.5" x2="209.8" y2="753.5" stroke="#444" stroke-width="0.5"/>
<text x="206.8" y="677.1" font-size="4.3" text-anchor="end" dominant-baseline="central" fill="#444" stroke="#444" stroke-width="0.12">0</text>
<line x1="208" y1="677.6" x2="209.8" y2="677.6" stroke="#444" stroke-width="0.5"/>
<text x="206.8" y="713.7" font-size="4.3" text-anchor="end" dominant-baseline="central" fill="#444" stroke="#444" stroke-width="0.12">0</text>
<line x1="208" y1="714.2" x2="209.8" y2="714.2" stroke="#444" stroke-width="0.5"/>
<text x="206.8" y="749.7" font-size="4.3" text-anchor="end" dominant-baseline="central" fill="#444" stroke="#444" stroke-width="0.12">0</text>
<line x1="208" y1="750.2" x2="209.8" y2="750.2" stroke="#444" stroke-width="0.5"/>
<text x="206.8" y="785.5" font-size="4.3" text-anchor="end" dominant-baseline="central" fill="#444" stroke="#444" stroke-width="0.12">0</text>
<line x1="208" y1="786" x2="209.8" y2="786" stroke="#444" stroke-width="0.5"/>
<line x1="210.5" y1="678.6" x2="403.5" y2="678.6" stroke="#bccce6" stroke-width="0.9" stroke-dasharray="12 0.8 5 0.8 8 0.8"/>
<line x1="210.5" y1="715.2" x2="403.5" y2="715.2" stroke="#a4a4ec" stroke-width="0.9" stroke-dasharray="12 0.8 5 0.8 8 0.8"/>
<line x1="210.5" y1="751.2" x2="403.5" y2="751.2" stroke="#f4a0a0" stroke-width="0.9" stroke-dasharray="12 0.8 5 0.8 8 0.8"/>
<line x1="210.5" y1="787" x2="403.5" y2="787" stroke="#8888ee" stroke-width="0.9" stroke-dasharray="12 0.8 5 0.8 8 0.8"/>
<path d="M244.65 678.6L245.5 665.5L246.10000000000002 665.5L246.95000000000002 678.6Z" fill="#285a96" stroke="none" stroke-width="1"/>
<path d="M244.65 715.2L245.5 705L246.10000000000002 705L246.95000000000002 715.2Z" fill="#3030d8" stroke="none" stroke-width="1"/>
<path d="M244.7 751.2L245.7 715.6L246.3 715.6L247.3 751.2Z" fill="#f01818" stroke="none" stroke-width="1"/>
<path d="M244.65 787L245.5 766.9L246.10000000000002 766.9L246.95000000000002 787Z" fill="#2020e0" stroke="none" stroke-width="1"/>
<text x="207.4" y="663.2" font-size="11.8" text-anchor="end" dominant-baseline="central" fill="#222" stroke="#222" stroke-width="0.22">DMSO</text>
<text x="207.4" y="698.5" font-size="11.8" text-anchor="end" dominant-baseline="central" fill="#222" stroke="#222" stroke-width="0.22">CPI203</text>
<text x="207.4" y="734.6" font-size="11.8" text-anchor="end" dominant-baseline="central" fill="#222" stroke="#222" stroke-width="0.22">Nutlin-3</text>
<text x="207.4" y="770.6" font-size="11.8" text-anchor="end" dominant-baseline="central" fill="#222" stroke="#222" stroke-width="0.22">Combo</text>
<text x="209.3" y="790.2" font-size="4.2" text-anchor="end" dominant-baseline="central" fill="#6060d0" stroke="#6060d0" stroke-width="0.12">LOC100130075</text>
<rect x="230.6" y="789.2" width="3.4" height="2" fill="#5050c8" stroke="none" stroke-width="1"/>
<text x="229.9" y="795.3" font-size="4.2" text-anchor="start" dominant-baseline="central" fill="#1a1a80" stroke="#1a1a80" stroke-width="0.12">MDM2</text>
<line x1="243.6" y1="795.3" x2="371.2" y2="795.3" stroke="#2a2a90" stroke-width="0.5" stroke-dasharray="1.2 0.8"/>
<line x1="243.6" y1="793.2" x2="243.6" y2="797.4" stroke="#1a1a80" stroke-width="0.8"/>
<line x1="262.5" y1="793.2" x2="262.5" y2="797.4" stroke="#1a1a80" stroke-width="0.8"/>
<line x1="273.8" y1="793.2" x2="273.8" y2="797.4" stroke="#1a1a80" stroke-width="0.8"/>
<line x1="285.5" y1="793.2" x2="285.5" y2="797.4" stroke="#1a1a80" stroke-width="0.8"/>
<line x1="299.2" y1="793.2" x2="299.2" y2="797.4" stroke="#1a1a80" stroke-width="0.8"/>
<line x1="314" y1="793.2" x2="314" y2="797.4" stroke="#1a1a80" stroke-width="0.8"/>
<line x1="336.2" y1="793.2" x2="336.2" y2="797.4" stroke="#1a1a80" stroke-width="0.8"/>
<line x1="339" y1="793.2" x2="339" y2="797.4" stroke="#1a1a80" stroke-width="0.8"/>
<line x1="350.3" y1="793.2" x2="350.3" y2="797.4" stroke="#1a1a80" stroke-width="0.8"/>
<rect x="350.6" y="793.8" width="20.6" height="3" fill="#10108a" stroke="none" stroke-width="1"/>
<text x="390.4" y="790.2" font-size="4.2" text-anchor="end" dominant-baseline="central" fill="#222" stroke="#222" stroke-width="0.12">CPM</text>
<rect x="391.1" y="789" width="12" height="2.6" fill="#000" stroke="none" stroke-width="1"/>
<text x="390.4" y="795.3" font-size="4.2" text-anchor="end" dominant-baseline="central" fill="#222" stroke="#222" stroke-width="0.12">CPM</text>
<rect x="391.1" y="794.1" width="12" height="2.6" fill="#000" stroke="none" stroke-width="1"/>
<text x="450" y="595.3" font-size="23.5" text-anchor="start" dominant-baseline="alphabetic" fill="#000" font-weight="bold">O</text>
<text x="558.5" y="620.7" font-size="12" text-anchor="middle" dominant-baseline="central" fill="#222" stroke="#222" stroke-width="0.22" font-style="italic">RRM2B</text>
<line x1="463.6" y1="630" x2="463.6" y2="800" stroke="#f7c8c8" stroke-width="0.8"/>
<text x="463.3" y="632.7" font-size="4.3" text-anchor="end" dominant-baseline="central" fill="#333" stroke="#333" stroke-width="0.12">Scale</text>
<text x="463.3" y="639.2" font-size="4.3" text-anchor="end" dominant-baseline="central" fill="#333" stroke="#333" stroke-width="0.12">chr6:</text>
<text x="530.6" y="632.5" font-size="4.3" text-anchor="end" dominant-baseline="central" fill="#333" stroke="#333" stroke-width="0.12">20 kb</text>
<line x1="531.6" y1="632.5" x2="617.2" y2="632.5" stroke="#444" stroke-width="0.7"/>
<line x1="531.9" y1="630.5" x2="531.9" y2="634.5" stroke="#444" stroke-width="0.7"/>
<line x1="617.2" y1="630.5" x2="617.2" y2="634.5" stroke="#444" stroke-width="0.7"/>
<text x="620.5" y="632.5" font-size="4.3" text-anchor="start" dominant-baseline="central" fill="#333" stroke="#333" stroke-width="0.12">hg19</text>
<line x1="471.1" y1="637.3" x2="471.1" y2="641" stroke="#333" stroke-width="0.5"/>
<text x="514.0" y="639.2" font-size="4.3" text-anchor="end" dominant-baseline="central" fill="#333" stroke="#333" stroke-width="0.12">103,220,000</text>
<line x1="514.8" y1="637.3" x2="514.8" y2="641" stroke="#333" stroke-width="0.5"/>
<text x="557.6" y="639.2" font-size="4.3" text-anchor="end" dominant-baseline="central" fill="#333" stroke="#333" stroke-width="0.12">103,230,000</text>
<line x1="558.4" y1="637.3" x2="558.4" y2="641" stroke="#333" stroke-width="0.5"/>
<text x="600.3000000000001" y="639.2" font-size="4.3" text-anchor="end" dominant-baseline="central" fill="#333" stroke="#333" stroke-width="0.12">103,240,000</text>
<line x1="601.1" y1="637.3" x2="601.1" y2="641" stroke="#333" stroke-width="0.5"/>
<text x="643.3000000000001" y="639.2" font-size="4.3" text-anchor="end" dominant-baseline="central" fill="#333" stroke="#333" stroke-width="0.12">103,250,000</text>
<line x1="644.1" y1="637.3" x2="644.1" y2="641" stroke="#333" stroke-width="0.5"/>
<text x="460.5" y="644.3" font-size="4.3" text-anchor="end" dominant-baseline="central" fill="#444" stroke="#444" stroke-width="0.12">33.8686</text>
<line x1="461" y1="644.3" x2="463" y2="644.3" stroke="#444" stroke-width="0.5"/>
<text x="460.5" y="681.9" font-size="4.3" text-anchor="end" dominant-baseline="central" fill="#444" stroke="#444" stroke-width="0.12">33.8686</text>
<line x1="461" y1="681.9" x2="463" y2="681.9" stroke="#444" stroke-width="0.5"/>
<text x="460.5" y="719.4" font-size="4.3" text-anchor="end" dominant-baseline="central" fill="#444" stroke="#444" stroke-width="0.12">33.8686</text>
<line x1="461" y1="719.4" x2="463" y2="719.4" stroke="#444" stroke-width="0.5"/>
<text x="460.5" y="757.3" font-size="4.3" text-anchor="end" dominant-baseline="central" fill="#444" stroke="#444" stroke-width="0.12">33.8686</text>
<line x1="461" y1="757.3" x2="463" y2="757.3" stroke="#444" stroke-width="0.5"/>
<text x="460" y="676.3" font-size="4.3" text-anchor="end" dominant-baseline="central" fill="#444" stroke="#444" stroke-width="0.12">0</text>
<line x1="461" y1="676.8" x2="463" y2="676.8" stroke="#444" stroke-width="0.5"/>
<text x="460" y="714.2" font-size="4.3" text-anchor="end" dominant-baseline="central" fill="#444" stroke="#444" stroke-width="0.12">0</text>
<line x1="461" y1="714.7" x2="463" y2="714.7" stroke="#444" stroke-width="0.5"/>
<text x="460" y="750.9" font-size="4.3" text-anchor="end" dominant-baseline="central" fill="#444" stroke="#444" stroke-width="0.12">0</text>
<line x1="461" y1="751.4" x2="463" y2="751.4" stroke="#444" stroke-width="0.5"/>
<text x="460" y="788.4" font-size="4.3" text-anchor="end" dominant-baseline="central" fill="#444" stroke="#444" stroke-width="0.12">0</text>
<line x1="461" y1="788.9" x2="463" y2="788.9" stroke="#444" stroke-width="0.5"/>
<line x1="463.6" y1="678.8" x2="685" y2="678.8" stroke="#bccce6" stroke-width="0.9" stroke-dasharray="12 0.8 5 0.8 8 0.8"/>
<line x1="463.6" y1="716.7" x2="685" y2="716.7" stroke="#a4a4ec" stroke-width="0.9" stroke-dasharray="12 0.8 5 0.8 8 0.8"/>
<line x1="463.6" y1="753.4" x2="685" y2="753.4" stroke="#f4a0a0" stroke-width="0.9" stroke-dasharray="12 0.8 5 0.8 8 0.8"/>
<line x1="463.6" y1="790.9" x2="685" y2="790.9" stroke="#8888ee" stroke-width="0.9" stroke-dasharray="12 0.8 5 0.8 8 0.8"/>
<path d="M638.15 678.8L639.0 658.8L639.5999999999999 658.8L640.4499999999999 678.8Z" fill="#285a96" stroke="none" stroke-width="1"/>
<path d="M638.15 716.7L639.0 707L639.5999999999999 707L640.4499999999999 716.7Z" fill="#3030d8" stroke="none" stroke-width="1"/>
<path d="M638.0 753.4L639.0 719.2L639.5999999999999 719.2L640.5999999999999 753.4Z" fill="#f01818" stroke="none" stroke-width="1"/>
<path d="M638.15 790.9L639.0 770.1L639.5999999999999 770.1L640.4499999999999 790.9Z" fill="#2020e0" stroke="none" stroke-width="1"/>
<text x="458.7" y="663.3" font-size="11.8" text-anchor="end" dominant-baseline="central" fill="#222" stroke="#222" stroke-width="0.22">DMSO</text>
<text x="458.7" y="698.1" font-size="11.8" text-anchor="end" dominant-baseline="central" fill="#222" stroke="#222" stroke-width="0.22">CPI203</text>
<text x="458.7" y="734.1" font-size="11.8" text-anchor="end" dominant-baseline="central" fill="#222" stroke="#222" stroke-width="0.22">Nutlin-3</text>
<text x="458.7" y="770.8" font-size="11.8" text-anchor="end" dominant-baseline="central" fill="#222" stroke="#222" stroke-width="0.22">Combo</text>
<text x="482.5" y="793.9" font-size="4.2" text-anchor="start" dominant-baseline="central" fill="#1a1a80" stroke="#1a1a80" stroke-width="0.12">RRM2B</text>
<rect x="501" y="792.4" width="15.4" height="3" fill="#10108a" stroke="none" stroke-width="1"/>
<line x1="516.4" y1="793.9" x2="648.1" y2="793.9" stroke="#2a2a90" stroke-width="0.5" stroke-dasharray="1.2 0.8"/>
<line x1="516.4" y1="791.8" x2="516.4" y2="796" stroke="#1a1a80" stroke-width="0.8"/>
<line x1="536.6" y1="791.8" x2="536.6" y2="796" stroke="#1a1a80" stroke-width="0.8"/>
<line x1="541.6" y1="791.8" x2="541.6" y2="796" stroke="#1a1a80" stroke-width="0.8"/>
<line x1="562.5" y1="791.8" x2="562.5" y2="796" stroke="#1a1a80" stroke-width="0.8"/>
<line x1="587.6" y1="791.8" x2="587.6" y2="796" stroke="#1a1a80" stroke-width="0.8"/>
<line x1="589.3" y1="791.8" x2="589.3" y2="796" stroke="#1a1a80" stroke-width="0.8"/>
<line x1="619.5" y1="791.8" x2="619.5" y2="796" stroke="#1a1a80" stroke-width="0.8"/>
<line x1="648.1" y1="791.8" x2="648.1" y2="796" stroke="#1a1a80" stroke-width="0.8"/>
</svg>
</body></html>
